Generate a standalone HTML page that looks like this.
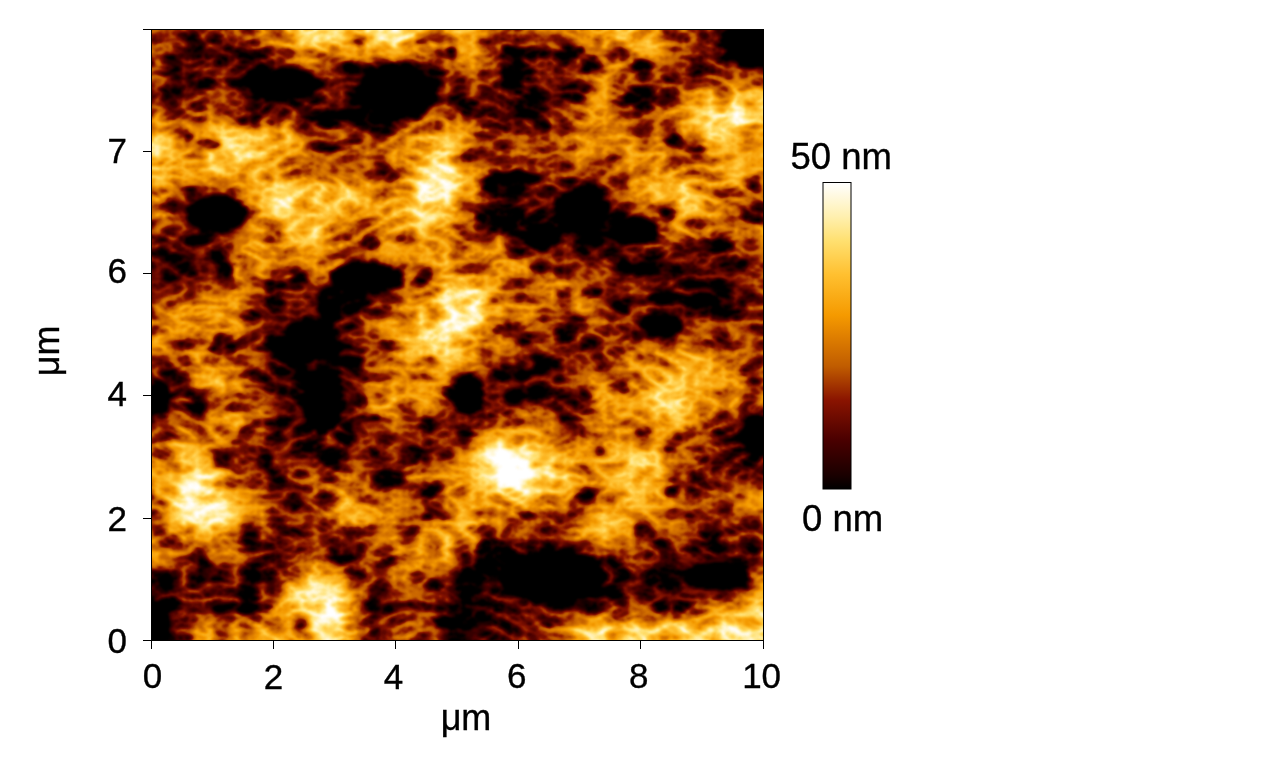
<!DOCTYPE html>
<html lang="en">
<head>
<meta charset="utf-8">
<title>AFM height image</title>
<style>
html,body{margin:0;padding:0;background:#fff;}
body{width:1280px;height:762px;position:relative;overflow:hidden;}
svg{position:absolute;left:0;top:0;display:block;}
</style>
</head>
<body>
<svg width="1280" height="762" viewBox="0 0 1280 762">
<defs>
<linearGradient id="cb" x1="0" y1="1" x2="0" y2="0">
<stop offset="0.000" stop-color="#000000"/>
<stop offset="0.045" stop-color="#1a0000"/>
<stop offset="0.160" stop-color="#4a0000"/>
<stop offset="0.290" stop-color="#8a1400"/>
<stop offset="0.400" stop-color="#c05c00"/>
<stop offset="0.500" stop-color="#e08000"/>
<stop offset="0.567" stop-color="#f59a00"/>
<stop offset="0.700" stop-color="#ffc030"/>
<stop offset="0.810" stop-color="#ffe070"/>
<stop offset="0.890" stop-color="#fff0b0"/>
<stop offset="1.000" stop-color="#ffffff"/>
</linearGradient>
<clipPath id="hc"><rect x="151" y="29" width="612" height="612"/></clipPath>
<filter id="hm" filterUnits="userSpaceOnUse" x="131" y="9" width="652" height="652" color-interpolation-filters="sRGB">
<feTurbulence type="turbulence" baseFrequency="0.038 0.065" numOctaves="4" seed="7" result="T"/>
<feColorMatrix in="T" type="matrix" values="-1 0 0 0 1  -1 0 0 0 1  -1 0 0 0 1  0 0 0 0 1" result="Tg"/>
<feComposite in="SourceGraphic" in2="Tg" operator="arithmetic" k1="0.0000" k2="1.6667" k3="0.7200" k4="-0.8301" result="V"/>
<feGaussianBlur in="V" stdDeviation="0.8" result="V2"/>
<feComponentTransfer in="V2">
<feFuncR type="table" tableValues="0.000 0.071 0.131 0.182 0.233 0.284 0.343 0.404 0.464 0.524 0.584 0.645 0.705 0.761 0.800 0.839 0.878 0.917 0.955 0.969 0.978 0.987 0.996 1.000 1.000 1.000 1.000 1.000 1.000 1.000 1.000 1.000 1.000"/>
<feFuncG type="table" tableValues="0.000 0.000 0.000 0.000 0.000 0.000 0.017 0.035 0.054 0.073 0.136 0.216 0.297 0.370 0.414 0.458 0.502 0.550 0.597 0.634 0.669 0.704 0.739 0.774 0.810 0.846 0.880 0.905 0.929 0.950 0.967 0.983 1.000"/>
<feFuncB type="table" tableValues="0.000 0.000 0.000 0.000 0.000 0.000 0.000 0.000 0.000 0.000 0.000 0.000 0.000 0.000 0.000 0.000 0.000 0.000 0.000 0.038 0.082 0.126 0.171 0.231 0.302 0.374 0.447 0.545 0.643 0.736 0.824 0.912 1.000"/>
</feComponentTransfer>
</filter>
<filter id="b1" filterUnits="userSpaceOnUse" x="131" y="9" width="652" height="652" color-interpolation-filters="sRGB"><feGaussianBlur stdDeviation="6.5"/></filter>
<filter id="b3" filterUnits="userSpaceOnUse" x="131" y="9" width="652" height="652" color-interpolation-filters="sRGB"><feGaussianBlur stdDeviation="6"/></filter>
<filter id="b2" filterUnits="userSpaceOnUse" x="131" y="9" width="652" height="652" color-interpolation-filters="sRGB"><feGaussianBlur stdDeviation="2.5"/></filter>
</defs>
<g clip-path="url(#hc)">
<g filter="url(#hm)">
<rect x="131" y="9" width="652" height="652" fill="#707070"/>
<g filter="url(#b1)">
<rect x="131.88" y="9.88" width="38.75" height="19.62" fill="#626262"/>
<rect x="170.12" y="9.88" width="19.62" height="19.62" fill="#585858"/>
<rect x="189.25" y="9.88" width="19.62" height="19.62" fill="#5a5a5a"/>
<rect x="208.38" y="9.88" width="19.62" height="19.62" fill="#535353"/>
<rect x="227.50" y="9.88" width="19.62" height="19.62" fill="#646464"/>
<rect x="246.62" y="9.88" width="19.62" height="19.62" fill="#727272"/>
<rect x="265.75" y="9.88" width="19.62" height="19.62" fill="#838383"/>
<rect x="284.88" y="9.88" width="19.62" height="19.62" fill="#969696"/>
<rect x="304.00" y="9.88" width="38.75" height="19.62" fill="#aaaaaa"/>
<rect x="342.25" y="9.88" width="19.62" height="19.62" fill="#878787"/>
<rect x="361.38" y="9.88" width="19.62" height="19.62" fill="#a9a9a9"/>
<rect x="380.50" y="9.88" width="19.62" height="19.62" fill="#b9b9b9"/>
<rect x="399.62" y="9.88" width="19.62" height="19.62" fill="#a5a5a5"/>
<rect x="418.75" y="9.88" width="19.62" height="19.62" fill="#8b8b8b"/>
<rect x="437.88" y="9.88" width="19.62" height="19.62" fill="#808080"/>
<rect x="457.00" y="9.88" width="19.62" height="19.62" fill="#8c8c8c"/>
<rect x="476.12" y="9.88" width="19.62" height="19.62" fill="#727272"/>
<rect x="495.25" y="9.88" width="19.62" height="19.62" fill="#646464"/>
<rect x="514.38" y="9.88" width="19.62" height="19.62" fill="#636363"/>
<rect x="533.50" y="9.88" width="19.62" height="19.62" fill="#727272"/>
<rect x="552.62" y="9.88" width="38.75" height="19.62" fill="#737373"/>
<rect x="590.88" y="9.88" width="19.62" height="19.62" fill="#838383"/>
<rect x="610.00" y="9.88" width="19.62" height="19.62" fill="#969696"/>
<rect x="629.12" y="9.88" width="19.62" height="19.62" fill="#949494"/>
<rect x="648.25" y="9.88" width="19.62" height="19.62" fill="#7c7c7c"/>
<rect x="667.38" y="9.88" width="19.62" height="19.62" fill="#727272"/>
<rect x="686.50" y="9.88" width="19.62" height="19.62" fill="#626262"/>
<rect x="705.62" y="9.88" width="19.62" height="19.62" fill="#535353"/>
<rect x="724.75" y="9.88" width="57.88" height="19.62" fill="#242424"/>
<rect x="131.88" y="29.00" width="38.75" height="19.62" fill="#626262"/>
<rect x="170.12" y="29.00" width="19.62" height="19.62" fill="#585858"/>
<rect x="189.25" y="29.00" width="19.62" height="19.62" fill="#5a5a5a"/>
<rect x="208.38" y="29.00" width="19.62" height="19.62" fill="#535353"/>
<rect x="227.50" y="29.00" width="19.62" height="19.62" fill="#646464"/>
<rect x="246.62" y="29.00" width="19.62" height="19.62" fill="#727272"/>
<rect x="265.75" y="29.00" width="19.62" height="19.62" fill="#838383"/>
<rect x="284.88" y="29.00" width="19.62" height="19.62" fill="#969696"/>
<rect x="304.00" y="29.00" width="38.75" height="19.62" fill="#aaaaaa"/>
<rect x="342.25" y="29.00" width="19.62" height="19.62" fill="#878787"/>
<rect x="361.38" y="29.00" width="19.62" height="19.62" fill="#a9a9a9"/>
<rect x="380.50" y="29.00" width="19.62" height="19.62" fill="#b9b9b9"/>
<rect x="399.62" y="29.00" width="19.62" height="19.62" fill="#a5a5a5"/>
<rect x="418.75" y="29.00" width="19.62" height="19.62" fill="#8b8b8b"/>
<rect x="437.88" y="29.00" width="19.62" height="19.62" fill="#808080"/>
<rect x="457.00" y="29.00" width="19.62" height="19.62" fill="#8c8c8c"/>
<rect x="476.12" y="29.00" width="19.62" height="19.62" fill="#727272"/>
<rect x="495.25" y="29.00" width="19.62" height="19.62" fill="#646464"/>
<rect x="514.38" y="29.00" width="19.62" height="19.62" fill="#636363"/>
<rect x="533.50" y="29.00" width="19.62" height="19.62" fill="#727272"/>
<rect x="552.62" y="29.00" width="38.75" height="19.62" fill="#737373"/>
<rect x="590.88" y="29.00" width="19.62" height="19.62" fill="#838383"/>
<rect x="610.00" y="29.00" width="19.62" height="19.62" fill="#969696"/>
<rect x="629.12" y="29.00" width="19.62" height="19.62" fill="#949494"/>
<rect x="648.25" y="29.00" width="19.62" height="19.62" fill="#7c7c7c"/>
<rect x="667.38" y="29.00" width="19.62" height="19.62" fill="#727272"/>
<rect x="686.50" y="29.00" width="19.62" height="19.62" fill="#626262"/>
<rect x="705.62" y="29.00" width="19.62" height="19.62" fill="#535353"/>
<rect x="724.75" y="29.00" width="57.88" height="19.62" fill="#242424"/>
<rect x="131.88" y="48.12" width="38.75" height="19.62" fill="#656565"/>
<rect x="170.12" y="48.12" width="19.62" height="19.62" fill="#494949"/>
<rect x="189.25" y="48.12" width="19.62" height="19.62" fill="#5c5c5c"/>
<rect x="208.38" y="48.12" width="19.62" height="19.62" fill="#535353"/>
<rect x="227.50" y="48.12" width="19.62" height="19.62" fill="#4c4c4c"/>
<rect x="246.62" y="48.12" width="19.62" height="19.62" fill="#444444"/>
<rect x="265.75" y="48.12" width="19.62" height="19.62" fill="#666666"/>
<rect x="284.88" y="48.12" width="19.62" height="19.62" fill="#8f8f8f"/>
<rect x="304.00" y="48.12" width="19.62" height="19.62" fill="#838383"/>
<rect x="323.12" y="48.12" width="19.62" height="19.62" fill="#646464"/>
<rect x="342.25" y="48.12" width="19.62" height="19.62" fill="#7e7e7e"/>
<rect x="361.38" y="48.12" width="19.62" height="19.62" fill="#727272"/>
<rect x="380.50" y="48.12" width="19.62" height="19.62" fill="#7e7e7e"/>
<rect x="399.62" y="48.12" width="19.62" height="19.62" fill="#6c6c6c"/>
<rect x="418.75" y="48.12" width="19.62" height="19.62" fill="#626262"/>
<rect x="437.88" y="48.12" width="19.62" height="19.62" fill="#6f6f6f"/>
<rect x="457.00" y="48.12" width="19.62" height="19.62" fill="#838383"/>
<rect x="476.12" y="48.12" width="19.62" height="19.62" fill="#727272"/>
<rect x="495.25" y="48.12" width="38.75" height="19.62" fill="#505050"/>
<rect x="533.50" y="48.12" width="19.62" height="19.62" fill="#535353"/>
<rect x="552.62" y="48.12" width="19.62" height="19.62" fill="#4d4d4d"/>
<rect x="571.75" y="48.12" width="19.62" height="19.62" fill="#5f5f5f"/>
<rect x="590.88" y="48.12" width="19.62" height="19.62" fill="#686868"/>
<rect x="610.00" y="48.12" width="19.62" height="19.62" fill="#838383"/>
<rect x="629.12" y="48.12" width="19.62" height="19.62" fill="#636363"/>
<rect x="648.25" y="48.12" width="19.62" height="19.62" fill="#686868"/>
<rect x="667.38" y="48.12" width="19.62" height="19.62" fill="#626262"/>
<rect x="686.50" y="48.12" width="38.75" height="19.62" fill="#535353"/>
<rect x="724.75" y="48.12" width="19.62" height="19.62" fill="#505050"/>
<rect x="743.88" y="48.12" width="38.75" height="19.62" fill="#242424"/>
<rect x="131.88" y="67.25" width="38.75" height="19.62" fill="#626262"/>
<rect x="170.12" y="67.25" width="19.62" height="19.62" fill="#4c4c4c"/>
<rect x="189.25" y="67.25" width="19.62" height="19.62" fill="#505050"/>
<rect x="208.38" y="67.25" width="19.62" height="19.62" fill="#585858"/>
<rect x="227.50" y="67.25" width="19.62" height="19.62" fill="#494949"/>
<rect x="246.62" y="67.25" width="57.88" height="19.62" fill="#303030"/>
<rect x="304.00" y="67.25" width="19.62" height="19.62" fill="#505050"/>
<rect x="323.12" y="67.25" width="19.62" height="19.62" fill="#565656"/>
<rect x="342.25" y="67.25" width="19.62" height="19.62" fill="#505050"/>
<rect x="361.38" y="67.25" width="19.62" height="19.62" fill="#303030"/>
<rect x="380.50" y="67.25" width="57.88" height="19.62" fill="#242424"/>
<rect x="437.88" y="67.25" width="19.62" height="19.62" fill="#595959"/>
<rect x="457.00" y="67.25" width="19.62" height="19.62" fill="#727272"/>
<rect x="476.12" y="67.25" width="19.62" height="19.62" fill="#626262"/>
<rect x="495.25" y="67.25" width="38.75" height="19.62" fill="#505050"/>
<rect x="533.50" y="67.25" width="38.75" height="19.62" fill="#535353"/>
<rect x="571.75" y="67.25" width="19.62" height="19.62" fill="#696969"/>
<rect x="590.88" y="67.25" width="19.62" height="19.62" fill="#7e7e7e"/>
<rect x="610.00" y="67.25" width="19.62" height="19.62" fill="#838383"/>
<rect x="629.12" y="67.25" width="19.62" height="19.62" fill="#5f5f5f"/>
<rect x="648.25" y="67.25" width="19.62" height="19.62" fill="#666666"/>
<rect x="667.38" y="67.25" width="19.62" height="19.62" fill="#535353"/>
<rect x="686.50" y="67.25" width="19.62" height="19.62" fill="#5f5f5f"/>
<rect x="705.62" y="67.25" width="77.00" height="19.62" fill="#626262"/>
<rect x="131.88" y="86.38" width="38.75" height="19.62" fill="#4d4d4d"/>
<rect x="170.12" y="86.38" width="19.62" height="19.62" fill="#505050"/>
<rect x="189.25" y="86.38" width="19.62" height="19.62" fill="#656565"/>
<rect x="208.38" y="86.38" width="19.62" height="19.62" fill="#626262"/>
<rect x="227.50" y="86.38" width="19.62" height="19.62" fill="#545454"/>
<rect x="246.62" y="86.38" width="19.62" height="19.62" fill="#303030"/>
<rect x="265.75" y="86.38" width="19.62" height="19.62" fill="#242424"/>
<rect x="284.88" y="86.38" width="19.62" height="19.62" fill="#303030"/>
<rect x="304.00" y="86.38" width="19.62" height="19.62" fill="#505050"/>
<rect x="323.12" y="86.38" width="19.62" height="19.62" fill="#535353"/>
<rect x="342.25" y="86.38" width="19.62" height="19.62" fill="#4a4a4a"/>
<rect x="361.38" y="86.38" width="57.88" height="19.62" fill="#242424"/>
<rect x="418.75" y="86.38" width="19.62" height="19.62" fill="#444444"/>
<rect x="437.88" y="86.38" width="19.62" height="19.62" fill="#626262"/>
<rect x="457.00" y="86.38" width="19.62" height="19.62" fill="#5f5f5f"/>
<rect x="476.12" y="86.38" width="19.62" height="19.62" fill="#545454"/>
<rect x="495.25" y="86.38" width="19.62" height="19.62" fill="#535353"/>
<rect x="514.38" y="86.38" width="19.62" height="19.62" fill="#505050"/>
<rect x="533.50" y="86.38" width="19.62" height="19.62" fill="#4e4e4e"/>
<rect x="552.62" y="86.38" width="19.62" height="19.62" fill="#505050"/>
<rect x="571.75" y="86.38" width="19.62" height="19.62" fill="#6f6f6f"/>
<rect x="590.88" y="86.38" width="19.62" height="19.62" fill="#838383"/>
<rect x="610.00" y="86.38" width="19.62" height="19.62" fill="#696969"/>
<rect x="629.12" y="86.38" width="19.62" height="19.62" fill="#505050"/>
<rect x="648.25" y="86.38" width="19.62" height="19.62" fill="#5f5f5f"/>
<rect x="667.38" y="86.38" width="19.62" height="19.62" fill="#727272"/>
<rect x="686.50" y="86.38" width="19.62" height="19.62" fill="#838383"/>
<rect x="705.62" y="86.38" width="77.00" height="19.62" fill="#969696"/>
<rect x="131.88" y="105.50" width="38.75" height="19.62" fill="#727272"/>
<rect x="170.12" y="105.50" width="19.62" height="19.62" fill="#626262"/>
<rect x="189.25" y="105.50" width="19.62" height="19.62" fill="#727272"/>
<rect x="208.38" y="105.50" width="19.62" height="19.62" fill="#626262"/>
<rect x="227.50" y="105.50" width="19.62" height="19.62" fill="#585858"/>
<rect x="246.62" y="105.50" width="19.62" height="19.62" fill="#474747"/>
<rect x="265.75" y="105.50" width="19.62" height="19.62" fill="#5c5c5c"/>
<rect x="284.88" y="105.50" width="19.62" height="19.62" fill="#626262"/>
<rect x="304.00" y="105.50" width="19.62" height="19.62" fill="#4d4d4d"/>
<rect x="323.12" y="105.50" width="19.62" height="19.62" fill="#505050"/>
<rect x="342.25" y="105.50" width="57.88" height="19.62" fill="#242424"/>
<rect x="399.62" y="105.50" width="19.62" height="19.62" fill="#505050"/>
<rect x="418.75" y="105.50" width="19.62" height="19.62" fill="#6f6f6f"/>
<rect x="437.88" y="105.50" width="19.62" height="19.62" fill="#636363"/>
<rect x="457.00" y="105.50" width="19.62" height="19.62" fill="#5f5f5f"/>
<rect x="476.12" y="105.50" width="19.62" height="19.62" fill="#545454"/>
<rect x="495.25" y="105.50" width="19.62" height="19.62" fill="#484848"/>
<rect x="514.38" y="105.50" width="19.62" height="19.62" fill="#505050"/>
<rect x="533.50" y="105.50" width="19.62" height="19.62" fill="#5f5f5f"/>
<rect x="552.62" y="105.50" width="19.62" height="19.62" fill="#656565"/>
<rect x="571.75" y="105.50" width="19.62" height="19.62" fill="#727272"/>
<rect x="590.88" y="105.50" width="19.62" height="19.62" fill="#838383"/>
<rect x="610.00" y="105.50" width="19.62" height="19.62" fill="#626262"/>
<rect x="629.12" y="105.50" width="19.62" height="19.62" fill="#676767"/>
<rect x="648.25" y="105.50" width="19.62" height="19.62" fill="#626262"/>
<rect x="667.38" y="105.50" width="19.62" height="19.62" fill="#838383"/>
<rect x="686.50" y="105.50" width="19.62" height="19.62" fill="#969696"/>
<rect x="705.62" y="105.50" width="19.62" height="19.62" fill="#aaaaaa"/>
<rect x="724.75" y="105.50" width="19.62" height="19.62" fill="#b7b7b7"/>
<rect x="743.88" y="105.50" width="38.75" height="19.62" fill="#a3a3a3"/>
<rect x="131.88" y="124.62" width="38.75" height="19.62" fill="#969696"/>
<rect x="170.12" y="124.62" width="38.75" height="19.62" fill="#7e7e7e"/>
<rect x="208.38" y="124.62" width="19.62" height="19.62" fill="#a3a3a3"/>
<rect x="227.50" y="124.62" width="19.62" height="19.62" fill="#a0a0a0"/>
<rect x="246.62" y="124.62" width="57.88" height="19.62" fill="#969696"/>
<rect x="304.00" y="124.62" width="19.62" height="19.62" fill="#676767"/>
<rect x="323.12" y="124.62" width="19.62" height="19.62" fill="#6f6f6f"/>
<rect x="342.25" y="124.62" width="19.62" height="19.62" fill="#646464"/>
<rect x="361.38" y="124.62" width="19.62" height="19.62" fill="#5f5f5f"/>
<rect x="380.50" y="124.62" width="19.62" height="19.62" fill="#6d6d6d"/>
<rect x="399.62" y="124.62" width="19.62" height="19.62" fill="#838383"/>
<rect x="418.75" y="124.62" width="38.75" height="19.62" fill="#969696"/>
<rect x="457.00" y="124.62" width="19.62" height="19.62" fill="#858585"/>
<rect x="476.12" y="124.62" width="19.62" height="19.62" fill="#6b6b6b"/>
<rect x="495.25" y="124.62" width="19.62" height="19.62" fill="#5e5e5e"/>
<rect x="514.38" y="124.62" width="19.62" height="19.62" fill="#626262"/>
<rect x="533.50" y="124.62" width="19.62" height="19.62" fill="#5f5f5f"/>
<rect x="552.62" y="124.62" width="19.62" height="19.62" fill="#737373"/>
<rect x="571.75" y="124.62" width="19.62" height="19.62" fill="#838383"/>
<rect x="590.88" y="124.62" width="19.62" height="19.62" fill="#727272"/>
<rect x="610.00" y="124.62" width="19.62" height="19.62" fill="#838383"/>
<rect x="629.12" y="124.62" width="38.75" height="19.62" fill="#727272"/>
<rect x="667.38" y="124.62" width="19.62" height="19.62" fill="#6f6f6f"/>
<rect x="686.50" y="124.62" width="19.62" height="19.62" fill="#989898"/>
<rect x="705.62" y="124.62" width="19.62" height="19.62" fill="#aaaaaa"/>
<rect x="724.75" y="124.62" width="19.62" height="19.62" fill="#8b8b8b"/>
<rect x="743.88" y="124.62" width="38.75" height="19.62" fill="#7c7c7c"/>
<rect x="131.88" y="143.75" width="38.75" height="19.62" fill="#aaaaaa"/>
<rect x="170.12" y="143.75" width="19.62" height="19.62" fill="#838383"/>
<rect x="189.25" y="143.75" width="19.62" height="19.62" fill="#7d7d7d"/>
<rect x="208.38" y="143.75" width="19.62" height="19.62" fill="#b7b7b7"/>
<rect x="227.50" y="143.75" width="19.62" height="19.62" fill="#adadad"/>
<rect x="246.62" y="143.75" width="19.62" height="19.62" fill="#ababab"/>
<rect x="265.75" y="143.75" width="19.62" height="19.62" fill="#969696"/>
<rect x="284.88" y="143.75" width="19.62" height="19.62" fill="#838383"/>
<rect x="304.00" y="143.75" width="19.62" height="19.62" fill="#646464"/>
<rect x="323.12" y="143.75" width="19.62" height="19.62" fill="#6a6a6a"/>
<rect x="342.25" y="143.75" width="19.62" height="19.62" fill="#797979"/>
<rect x="361.38" y="143.75" width="19.62" height="19.62" fill="#727272"/>
<rect x="380.50" y="143.75" width="19.62" height="19.62" fill="#838383"/>
<rect x="399.62" y="143.75" width="19.62" height="19.62" fill="#727272"/>
<rect x="418.75" y="143.75" width="19.62" height="19.62" fill="#969696"/>
<rect x="437.88" y="143.75" width="19.62" height="19.62" fill="#a9a9a9"/>
<rect x="457.00" y="143.75" width="19.62" height="19.62" fill="#7e7e7e"/>
<rect x="476.12" y="143.75" width="19.62" height="19.62" fill="#5f5f5f"/>
<rect x="495.25" y="143.75" width="19.62" height="19.62" fill="#626262"/>
<rect x="514.38" y="143.75" width="19.62" height="19.62" fill="#727272"/>
<rect x="533.50" y="143.75" width="19.62" height="19.62" fill="#656565"/>
<rect x="552.62" y="143.75" width="19.62" height="19.62" fill="#797979"/>
<rect x="571.75" y="143.75" width="19.62" height="19.62" fill="#838383"/>
<rect x="590.88" y="143.75" width="19.62" height="19.62" fill="#727272"/>
<rect x="610.00" y="143.75" width="57.88" height="19.62" fill="#838383"/>
<rect x="667.38" y="143.75" width="38.75" height="19.62" fill="#6f6f6f"/>
<rect x="705.62" y="143.75" width="77.00" height="19.62" fill="#838383"/>
<rect x="131.88" y="162.88" width="38.75" height="19.62" fill="#969696"/>
<rect x="170.12" y="162.88" width="38.75" height="19.62" fill="#838383"/>
<rect x="208.38" y="162.88" width="19.62" height="19.62" fill="#aaaaaa"/>
<rect x="227.50" y="162.88" width="19.62" height="19.62" fill="#828282"/>
<rect x="246.62" y="162.88" width="19.62" height="19.62" fill="#969696"/>
<rect x="265.75" y="162.88" width="19.62" height="19.62" fill="#838383"/>
<rect x="284.88" y="162.88" width="19.62" height="19.62" fill="#727272"/>
<rect x="304.00" y="162.88" width="19.62" height="19.62" fill="#626262"/>
<rect x="323.12" y="162.88" width="19.62" height="19.62" fill="#636363"/>
<rect x="342.25" y="162.88" width="19.62" height="19.62" fill="#646464"/>
<rect x="361.38" y="162.88" width="19.62" height="19.62" fill="#626262"/>
<rect x="380.50" y="162.88" width="19.62" height="19.62" fill="#5f5f5f"/>
<rect x="399.62" y="162.88" width="19.62" height="19.62" fill="#969696"/>
<rect x="418.75" y="162.88" width="19.62" height="19.62" fill="#bdbdbd"/>
<rect x="437.88" y="162.88" width="19.62" height="19.62" fill="#aeaeae"/>
<rect x="457.00" y="162.88" width="19.62" height="19.62" fill="#7e7e7e"/>
<rect x="476.12" y="162.88" width="19.62" height="19.62" fill="#6e6e6e"/>
<rect x="495.25" y="162.88" width="57.88" height="19.62" fill="#5f5f5f"/>
<rect x="552.62" y="162.88" width="19.62" height="19.62" fill="#676767"/>
<rect x="571.75" y="162.88" width="19.62" height="19.62" fill="#656565"/>
<rect x="590.88" y="162.88" width="19.62" height="19.62" fill="#6d6d6d"/>
<rect x="610.00" y="162.88" width="19.62" height="19.62" fill="#727272"/>
<rect x="629.12" y="162.88" width="96.12" height="19.62" fill="#838383"/>
<rect x="724.75" y="162.88" width="19.62" height="19.62" fill="#969696"/>
<rect x="743.88" y="162.88" width="38.75" height="19.62" fill="#838383"/>
<rect x="131.88" y="182.00" width="38.75" height="19.62" fill="#838383"/>
<rect x="170.12" y="182.00" width="19.62" height="19.62" fill="#646464"/>
<rect x="189.25" y="182.00" width="38.75" height="19.62" fill="#5f5f5f"/>
<rect x="227.50" y="182.00" width="19.62" height="19.62" fill="#797979"/>
<rect x="246.62" y="182.00" width="19.62" height="19.62" fill="#838383"/>
<rect x="265.75" y="182.00" width="19.62" height="19.62" fill="#a7a7a7"/>
<rect x="284.88" y="182.00" width="19.62" height="19.62" fill="#9c9c9c"/>
<rect x="304.00" y="182.00" width="57.88" height="19.62" fill="#aaaaaa"/>
<rect x="361.38" y="182.00" width="19.62" height="19.62" fill="#969696"/>
<rect x="380.50" y="182.00" width="19.62" height="19.62" fill="#727272"/>
<rect x="399.62" y="182.00" width="19.62" height="19.62" fill="#959595"/>
<rect x="418.75" y="182.00" width="19.62" height="19.62" fill="#c2c2c2"/>
<rect x="437.88" y="182.00" width="19.62" height="19.62" fill="#bbbbbb"/>
<rect x="457.00" y="182.00" width="19.62" height="19.62" fill="#969696"/>
<rect x="476.12" y="182.00" width="19.62" height="19.62" fill="#5f5f5f"/>
<rect x="495.25" y="182.00" width="38.75" height="19.62" fill="#505050"/>
<rect x="533.50" y="182.00" width="19.62" height="19.62" fill="#555555"/>
<rect x="552.62" y="182.00" width="19.62" height="19.62" fill="#505050"/>
<rect x="571.75" y="182.00" width="19.62" height="19.62" fill="#303030"/>
<rect x="590.88" y="182.00" width="19.62" height="19.62" fill="#505050"/>
<rect x="610.00" y="182.00" width="19.62" height="19.62" fill="#626262"/>
<rect x="629.12" y="182.00" width="19.62" height="19.62" fill="#838383"/>
<rect x="648.25" y="182.00" width="19.62" height="19.62" fill="#949494"/>
<rect x="667.38" y="182.00" width="19.62" height="19.62" fill="#adadad"/>
<rect x="686.50" y="182.00" width="19.62" height="19.62" fill="#969696"/>
<rect x="705.62" y="182.00" width="38.75" height="19.62" fill="#838383"/>
<rect x="743.88" y="182.00" width="38.75" height="19.62" fill="#6e6e6e"/>
<rect x="131.88" y="201.12" width="38.75" height="19.62" fill="#838383"/>
<rect x="170.12" y="201.12" width="19.62" height="19.62" fill="#535353"/>
<rect x="189.25" y="201.12" width="38.75" height="19.62" fill="#242424"/>
<rect x="227.50" y="201.12" width="19.62" height="19.62" fill="#444444"/>
<rect x="246.62" y="201.12" width="19.62" height="19.62" fill="#838383"/>
<rect x="265.75" y="201.12" width="19.62" height="19.62" fill="#a7a7a7"/>
<rect x="284.88" y="201.12" width="19.62" height="19.62" fill="#7b7b7b"/>
<rect x="304.00" y="201.12" width="38.75" height="19.62" fill="#969696"/>
<rect x="342.25" y="201.12" width="38.75" height="19.62" fill="#838383"/>
<rect x="380.50" y="201.12" width="19.62" height="19.62" fill="#969696"/>
<rect x="399.62" y="201.12" width="19.62" height="19.62" fill="#adadad"/>
<rect x="418.75" y="201.12" width="19.62" height="19.62" fill="#cacaca"/>
<rect x="437.88" y="201.12" width="19.62" height="19.62" fill="#919191"/>
<rect x="457.00" y="201.12" width="19.62" height="19.62" fill="#727272"/>
<rect x="476.12" y="201.12" width="19.62" height="19.62" fill="#505050"/>
<rect x="495.25" y="201.12" width="19.62" height="19.62" fill="#242424"/>
<rect x="514.38" y="201.12" width="19.62" height="19.62" fill="#505050"/>
<rect x="533.50" y="201.12" width="19.62" height="19.62" fill="#444444"/>
<rect x="552.62" y="201.12" width="19.62" height="19.62" fill="#303030"/>
<rect x="571.75" y="201.12" width="38.75" height="19.62" fill="#242424"/>
<rect x="610.00" y="201.12" width="19.62" height="19.62" fill="#565656"/>
<rect x="629.12" y="201.12" width="19.62" height="19.62" fill="#6c6c6c"/>
<rect x="648.25" y="201.12" width="19.62" height="19.62" fill="#696969"/>
<rect x="667.38" y="201.12" width="19.62" height="19.62" fill="#8f8f8f"/>
<rect x="686.50" y="201.12" width="19.62" height="19.62" fill="#909090"/>
<rect x="705.62" y="201.12" width="19.62" height="19.62" fill="#777777"/>
<rect x="724.75" y="201.12" width="19.62" height="19.62" fill="#646464"/>
<rect x="743.88" y="201.12" width="38.75" height="19.62" fill="#5f5f5f"/>
<rect x="131.88" y="220.25" width="38.75" height="19.62" fill="#686868"/>
<rect x="170.12" y="220.25" width="19.62" height="19.62" fill="#595959"/>
<rect x="189.25" y="220.25" width="38.75" height="19.62" fill="#505050"/>
<rect x="227.50" y="220.25" width="19.62" height="19.62" fill="#5f5f5f"/>
<rect x="246.62" y="220.25" width="19.62" height="19.62" fill="#838383"/>
<rect x="265.75" y="220.25" width="19.62" height="19.62" fill="#7a7a7a"/>
<rect x="284.88" y="220.25" width="19.62" height="19.62" fill="#ababab"/>
<rect x="304.00" y="220.25" width="19.62" height="19.62" fill="#b0b0b0"/>
<rect x="323.12" y="220.25" width="38.75" height="19.62" fill="#727272"/>
<rect x="361.38" y="220.25" width="19.62" height="19.62" fill="#777777"/>
<rect x="380.50" y="220.25" width="19.62" height="19.62" fill="#838383"/>
<rect x="399.62" y="220.25" width="38.75" height="19.62" fill="#969696"/>
<rect x="437.88" y="220.25" width="19.62" height="19.62" fill="#838383"/>
<rect x="457.00" y="220.25" width="19.62" height="19.62" fill="#626262"/>
<rect x="476.12" y="220.25" width="19.62" height="19.62" fill="#505050"/>
<rect x="495.25" y="220.25" width="19.62" height="19.62" fill="#6f6f6f"/>
<rect x="514.38" y="220.25" width="19.62" height="19.62" fill="#505050"/>
<rect x="533.50" y="220.25" width="96.12" height="19.62" fill="#303030"/>
<rect x="629.12" y="220.25" width="19.62" height="19.62" fill="#242424"/>
<rect x="648.25" y="220.25" width="19.62" height="19.62" fill="#5f5f5f"/>
<rect x="667.38" y="220.25" width="19.62" height="19.62" fill="#878787"/>
<rect x="686.50" y="220.25" width="19.62" height="19.62" fill="#838383"/>
<rect x="705.62" y="220.25" width="38.75" height="19.62" fill="#727272"/>
<rect x="743.88" y="220.25" width="38.75" height="19.62" fill="#7e7e7e"/>
<rect x="131.88" y="239.38" width="38.75" height="19.62" fill="#585858"/>
<rect x="170.12" y="239.38" width="38.75" height="19.62" fill="#505050"/>
<rect x="208.38" y="239.38" width="19.62" height="19.62" fill="#5d5d5d"/>
<rect x="227.50" y="239.38" width="19.62" height="19.62" fill="#626262"/>
<rect x="246.62" y="239.38" width="19.62" height="19.62" fill="#969696"/>
<rect x="265.75" y="239.38" width="19.62" height="19.62" fill="#757575"/>
<rect x="284.88" y="239.38" width="19.62" height="19.62" fill="#828282"/>
<rect x="304.00" y="239.38" width="19.62" height="19.62" fill="#818181"/>
<rect x="323.12" y="239.38" width="19.62" height="19.62" fill="#838383"/>
<rect x="342.25" y="239.38" width="19.62" height="19.62" fill="#797979"/>
<rect x="361.38" y="239.38" width="19.62" height="19.62" fill="#6f6f6f"/>
<rect x="380.50" y="239.38" width="19.62" height="19.62" fill="#848484"/>
<rect x="399.62" y="239.38" width="19.62" height="19.62" fill="#727272"/>
<rect x="418.75" y="239.38" width="38.75" height="19.62" fill="#838383"/>
<rect x="457.00" y="239.38" width="19.62" height="19.62" fill="#727272"/>
<rect x="476.12" y="239.38" width="38.75" height="19.62" fill="#838383"/>
<rect x="514.38" y="239.38" width="38.75" height="19.62" fill="#505050"/>
<rect x="552.62" y="239.38" width="19.62" height="19.62" fill="#5e5e5e"/>
<rect x="571.75" y="239.38" width="38.75" height="19.62" fill="#505050"/>
<rect x="610.00" y="239.38" width="19.62" height="19.62" fill="#494949"/>
<rect x="629.12" y="239.38" width="19.62" height="19.62" fill="#5f5f5f"/>
<rect x="648.25" y="239.38" width="19.62" height="19.62" fill="#636363"/>
<rect x="667.38" y="239.38" width="19.62" height="19.62" fill="#585858"/>
<rect x="686.50" y="239.38" width="38.75" height="19.62" fill="#505050"/>
<rect x="724.75" y="239.38" width="19.62" height="19.62" fill="#5f5f5f"/>
<rect x="743.88" y="239.38" width="38.75" height="19.62" fill="#626262"/>
<rect x="131.88" y="258.50" width="38.75" height="19.62" fill="#464646"/>
<rect x="170.12" y="258.50" width="19.62" height="19.62" fill="#505050"/>
<rect x="189.25" y="258.50" width="19.62" height="19.62" fill="#4d4d4d"/>
<rect x="208.38" y="258.50" width="19.62" height="19.62" fill="#505050"/>
<rect x="227.50" y="258.50" width="19.62" height="19.62" fill="#7e7e7e"/>
<rect x="246.62" y="258.50" width="19.62" height="19.62" fill="#838383"/>
<rect x="265.75" y="258.50" width="19.62" height="19.62" fill="#727272"/>
<rect x="284.88" y="258.50" width="19.62" height="19.62" fill="#6f6f6f"/>
<rect x="304.00" y="258.50" width="19.62" height="19.62" fill="#757575"/>
<rect x="323.12" y="258.50" width="19.62" height="19.62" fill="#7e7e7e"/>
<rect x="342.25" y="258.50" width="19.62" height="19.62" fill="#5f5f5f"/>
<rect x="361.38" y="258.50" width="19.62" height="19.62" fill="#505050"/>
<rect x="380.50" y="258.50" width="19.62" height="19.62" fill="#5f5f5f"/>
<rect x="399.62" y="258.50" width="19.62" height="19.62" fill="#757575"/>
<rect x="418.75" y="258.50" width="19.62" height="19.62" fill="#7e7e7e"/>
<rect x="437.88" y="258.50" width="19.62" height="19.62" fill="#969696"/>
<rect x="457.00" y="258.50" width="19.62" height="19.62" fill="#727272"/>
<rect x="476.12" y="258.50" width="19.62" height="19.62" fill="#626262"/>
<rect x="495.25" y="258.50" width="19.62" height="19.62" fill="#838383"/>
<rect x="514.38" y="258.50" width="19.62" height="19.62" fill="#868686"/>
<rect x="533.50" y="258.50" width="19.62" height="19.62" fill="#5e5e5e"/>
<rect x="552.62" y="258.50" width="19.62" height="19.62" fill="#626262"/>
<rect x="571.75" y="258.50" width="19.62" height="19.62" fill="#535353"/>
<rect x="590.88" y="258.50" width="19.62" height="19.62" fill="#626262"/>
<rect x="610.00" y="258.50" width="19.62" height="19.62" fill="#505050"/>
<rect x="629.12" y="258.50" width="19.62" height="19.62" fill="#252525"/>
<rect x="648.25" y="258.50" width="19.62" height="19.62" fill="#272727"/>
<rect x="667.38" y="258.50" width="38.75" height="19.62" fill="#505050"/>
<rect x="705.62" y="258.50" width="19.62" height="19.62" fill="#535353"/>
<rect x="724.75" y="258.50" width="19.62" height="19.62" fill="#505050"/>
<rect x="743.88" y="258.50" width="38.75" height="19.62" fill="#565656"/>
<rect x="131.88" y="277.62" width="38.75" height="19.62" fill="#444444"/>
<rect x="170.12" y="277.62" width="19.62" height="19.62" fill="#555555"/>
<rect x="189.25" y="277.62" width="19.62" height="19.62" fill="#545454"/>
<rect x="208.38" y="277.62" width="19.62" height="19.62" fill="#626262"/>
<rect x="227.50" y="277.62" width="38.75" height="19.62" fill="#727272"/>
<rect x="265.75" y="277.62" width="19.62" height="19.62" fill="#5f5f5f"/>
<rect x="284.88" y="277.62" width="19.62" height="19.62" fill="#595959"/>
<rect x="304.00" y="277.62" width="19.62" height="19.62" fill="#565656"/>
<rect x="323.12" y="277.62" width="19.62" height="19.62" fill="#505050"/>
<rect x="342.25" y="277.62" width="19.62" height="19.62" fill="#242424"/>
<rect x="361.38" y="277.62" width="19.62" height="19.62" fill="#303030"/>
<rect x="380.50" y="277.62" width="19.62" height="19.62" fill="#505050"/>
<rect x="399.62" y="277.62" width="19.62" height="19.62" fill="#686868"/>
<rect x="418.75" y="277.62" width="19.62" height="19.62" fill="#6f6f6f"/>
<rect x="437.88" y="277.62" width="19.62" height="19.62" fill="#8e8e8e"/>
<rect x="457.00" y="277.62" width="19.62" height="19.62" fill="#979797"/>
<rect x="476.12" y="277.62" width="19.62" height="19.62" fill="#a4a4a4"/>
<rect x="495.25" y="277.62" width="19.62" height="19.62" fill="#676767"/>
<rect x="514.38" y="277.62" width="19.62" height="19.62" fill="#5f5f5f"/>
<rect x="533.50" y="277.62" width="19.62" height="19.62" fill="#727272"/>
<rect x="552.62" y="277.62" width="19.62" height="19.62" fill="#868686"/>
<rect x="571.75" y="277.62" width="19.62" height="19.62" fill="#626262"/>
<rect x="590.88" y="277.62" width="19.62" height="19.62" fill="#595959"/>
<rect x="610.00" y="277.62" width="38.75" height="19.62" fill="#626262"/>
<rect x="648.25" y="277.62" width="19.62" height="19.62" fill="#505050"/>
<rect x="667.38" y="277.62" width="19.62" height="19.62" fill="#5a5a5a"/>
<rect x="686.50" y="277.62" width="19.62" height="19.62" fill="#505050"/>
<rect x="705.62" y="277.62" width="19.62" height="19.62" fill="#464646"/>
<rect x="724.75" y="277.62" width="19.62" height="19.62" fill="#484848"/>
<rect x="743.88" y="277.62" width="38.75" height="19.62" fill="#626262"/>
<rect x="131.88" y="296.75" width="38.75" height="19.62" fill="#727272"/>
<rect x="170.12" y="296.75" width="77.00" height="19.62" fill="#838383"/>
<rect x="246.62" y="296.75" width="19.62" height="19.62" fill="#535353"/>
<rect x="265.75" y="296.75" width="19.62" height="19.62" fill="#505050"/>
<rect x="284.88" y="296.75" width="19.62" height="19.62" fill="#545454"/>
<rect x="304.00" y="296.75" width="19.62" height="19.62" fill="#505050"/>
<rect x="323.12" y="296.75" width="19.62" height="19.62" fill="#242424"/>
<rect x="342.25" y="296.75" width="19.62" height="19.62" fill="#444444"/>
<rect x="361.38" y="296.75" width="19.62" height="19.62" fill="#5f5f5f"/>
<rect x="380.50" y="296.75" width="19.62" height="19.62" fill="#626262"/>
<rect x="399.62" y="296.75" width="19.62" height="19.62" fill="#838383"/>
<rect x="418.75" y="296.75" width="19.62" height="19.62" fill="#969696"/>
<rect x="437.88" y="296.75" width="19.62" height="19.62" fill="#8c8c8c"/>
<rect x="457.00" y="296.75" width="19.62" height="19.62" fill="#adadad"/>
<rect x="476.12" y="296.75" width="19.62" height="19.62" fill="#989898"/>
<rect x="495.25" y="296.75" width="38.75" height="19.62" fill="#838383"/>
<rect x="533.50" y="296.75" width="19.62" height="19.62" fill="#777777"/>
<rect x="552.62" y="296.75" width="19.62" height="19.62" fill="#6c6c6c"/>
<rect x="571.75" y="296.75" width="19.62" height="19.62" fill="#838383"/>
<rect x="590.88" y="296.75" width="19.62" height="19.62" fill="#626262"/>
<rect x="610.00" y="296.75" width="19.62" height="19.62" fill="#505050"/>
<rect x="629.12" y="296.75" width="19.62" height="19.62" fill="#666666"/>
<rect x="648.25" y="296.75" width="19.62" height="19.62" fill="#505050"/>
<rect x="667.38" y="296.75" width="19.62" height="19.62" fill="#474747"/>
<rect x="686.50" y="296.75" width="19.62" height="19.62" fill="#252525"/>
<rect x="705.62" y="296.75" width="19.62" height="19.62" fill="#262626"/>
<rect x="724.75" y="296.75" width="19.62" height="19.62" fill="#4a4a4a"/>
<rect x="743.88" y="296.75" width="38.75" height="19.62" fill="#646464"/>
<rect x="131.88" y="315.88" width="38.75" height="19.62" fill="#727272"/>
<rect x="170.12" y="315.88" width="19.62" height="19.62" fill="#838383"/>
<rect x="189.25" y="315.88" width="19.62" height="19.62" fill="#727272"/>
<rect x="208.38" y="315.88" width="38.75" height="19.62" fill="#838383"/>
<rect x="246.62" y="315.88" width="19.62" height="19.62" fill="#626262"/>
<rect x="265.75" y="315.88" width="19.62" height="19.62" fill="#444444"/>
<rect x="284.88" y="315.88" width="19.62" height="19.62" fill="#505050"/>
<rect x="304.00" y="315.88" width="19.62" height="19.62" fill="#303030"/>
<rect x="323.12" y="315.88" width="19.62" height="19.62" fill="#505050"/>
<rect x="342.25" y="315.88" width="19.62" height="19.62" fill="#626262"/>
<rect x="361.38" y="315.88" width="19.62" height="19.62" fill="#727272"/>
<rect x="380.50" y="315.88" width="19.62" height="19.62" fill="#838383"/>
<rect x="399.62" y="315.88" width="19.62" height="19.62" fill="#969696"/>
<rect x="418.75" y="315.88" width="19.62" height="19.62" fill="#aaaaaa"/>
<rect x="437.88" y="315.88" width="19.62" height="19.62" fill="#b4b4b4"/>
<rect x="457.00" y="315.88" width="19.62" height="19.62" fill="#b6b6b6"/>
<rect x="476.12" y="315.88" width="19.62" height="19.62" fill="#707070"/>
<rect x="495.25" y="315.88" width="19.62" height="19.62" fill="#6f6f6f"/>
<rect x="514.38" y="315.88" width="19.62" height="19.62" fill="#6d6d6d"/>
<rect x="533.50" y="315.88" width="19.62" height="19.62" fill="#636363"/>
<rect x="552.62" y="315.88" width="19.62" height="19.62" fill="#565656"/>
<rect x="571.75" y="315.88" width="19.62" height="19.62" fill="#6f6f6f"/>
<rect x="590.88" y="315.88" width="19.62" height="19.62" fill="#727272"/>
<rect x="610.00" y="315.88" width="19.62" height="19.62" fill="#626262"/>
<rect x="629.12" y="315.88" width="19.62" height="19.62" fill="#505050"/>
<rect x="648.25" y="315.88" width="19.62" height="19.62" fill="#242424"/>
<rect x="667.38" y="315.88" width="19.62" height="19.62" fill="#505050"/>
<rect x="686.50" y="315.88" width="19.62" height="19.62" fill="#626262"/>
<rect x="705.62" y="315.88" width="19.62" height="19.62" fill="#727272"/>
<rect x="724.75" y="315.88" width="57.88" height="19.62" fill="#626262"/>
<rect x="131.88" y="335.00" width="38.75" height="19.62" fill="#838383"/>
<rect x="170.12" y="335.00" width="19.62" height="19.62" fill="#696969"/>
<rect x="189.25" y="335.00" width="19.62" height="19.62" fill="#838383"/>
<rect x="208.38" y="335.00" width="38.75" height="19.62" fill="#5f5f5f"/>
<rect x="246.62" y="335.00" width="19.62" height="19.62" fill="#626262"/>
<rect x="265.75" y="335.00" width="19.62" height="19.62" fill="#303030"/>
<rect x="284.88" y="335.00" width="38.75" height="19.62" fill="#242424"/>
<rect x="323.12" y="335.00" width="19.62" height="19.62" fill="#303030"/>
<rect x="342.25" y="335.00" width="19.62" height="19.62" fill="#555555"/>
<rect x="361.38" y="335.00" width="19.62" height="19.62" fill="#535353"/>
<rect x="380.50" y="335.00" width="19.62" height="19.62" fill="#6f6f6f"/>
<rect x="399.62" y="335.00" width="19.62" height="19.62" fill="#969696"/>
<rect x="418.75" y="335.00" width="19.62" height="19.62" fill="#ababab"/>
<rect x="437.88" y="335.00" width="19.62" height="19.62" fill="#b0b0b0"/>
<rect x="457.00" y="335.00" width="19.62" height="19.62" fill="#838383"/>
<rect x="476.12" y="335.00" width="38.75" height="19.62" fill="#727272"/>
<rect x="514.38" y="335.00" width="19.62" height="19.62" fill="#5f5f5f"/>
<rect x="533.50" y="335.00" width="19.62" height="19.62" fill="#626262"/>
<rect x="552.62" y="335.00" width="19.62" height="19.62" fill="#5a5a5a"/>
<rect x="571.75" y="335.00" width="19.62" height="19.62" fill="#545454"/>
<rect x="590.88" y="335.00" width="19.62" height="19.62" fill="#535353"/>
<rect x="610.00" y="335.00" width="19.62" height="19.62" fill="#676767"/>
<rect x="629.12" y="335.00" width="19.62" height="19.62" fill="#6f6f6f"/>
<rect x="648.25" y="335.00" width="19.62" height="19.62" fill="#7e7e7e"/>
<rect x="667.38" y="335.00" width="19.62" height="19.62" fill="#757575"/>
<rect x="686.50" y="335.00" width="19.62" height="19.62" fill="#727272"/>
<rect x="705.62" y="335.00" width="19.62" height="19.62" fill="#5f5f5f"/>
<rect x="724.75" y="335.00" width="19.62" height="19.62" fill="#6b6b6b"/>
<rect x="743.88" y="335.00" width="38.75" height="19.62" fill="#626262"/>
<rect x="131.88" y="354.12" width="38.75" height="19.62" fill="#5f5f5f"/>
<rect x="170.12" y="354.12" width="19.62" height="19.62" fill="#636363"/>
<rect x="189.25" y="354.12" width="19.62" height="19.62" fill="#838383"/>
<rect x="208.38" y="354.12" width="19.62" height="19.62" fill="#757575"/>
<rect x="227.50" y="354.12" width="19.62" height="19.62" fill="#747474"/>
<rect x="246.62" y="354.12" width="19.62" height="19.62" fill="#666666"/>
<rect x="265.75" y="354.12" width="19.62" height="19.62" fill="#494949"/>
<rect x="284.88" y="354.12" width="19.62" height="19.62" fill="#303030"/>
<rect x="304.00" y="354.12" width="19.62" height="19.62" fill="#505050"/>
<rect x="323.12" y="354.12" width="19.62" height="19.62" fill="#2e2e2e"/>
<rect x="342.25" y="354.12" width="19.62" height="19.62" fill="#4f4f4f"/>
<rect x="361.38" y="354.12" width="19.62" height="19.62" fill="#656565"/>
<rect x="380.50" y="354.12" width="19.62" height="19.62" fill="#737373"/>
<rect x="399.62" y="354.12" width="19.62" height="19.62" fill="#838383"/>
<rect x="418.75" y="354.12" width="19.62" height="19.62" fill="#777777"/>
<rect x="437.88" y="354.12" width="19.62" height="19.62" fill="#989898"/>
<rect x="457.00" y="354.12" width="19.62" height="19.62" fill="#838383"/>
<rect x="476.12" y="354.12" width="19.62" height="19.62" fill="#727272"/>
<rect x="495.25" y="354.12" width="19.62" height="19.62" fill="#5f5f5f"/>
<rect x="514.38" y="354.12" width="19.62" height="19.62" fill="#4f4f4f"/>
<rect x="533.50" y="354.12" width="19.62" height="19.62" fill="#505050"/>
<rect x="552.62" y="354.12" width="19.62" height="19.62" fill="#4d4d4d"/>
<rect x="571.75" y="354.12" width="19.62" height="19.62" fill="#535353"/>
<rect x="590.88" y="354.12" width="19.62" height="19.62" fill="#5f5f5f"/>
<rect x="610.00" y="354.12" width="19.62" height="19.62" fill="#787878"/>
<rect x="629.12" y="354.12" width="38.75" height="19.62" fill="#838383"/>
<rect x="667.38" y="354.12" width="19.62" height="19.62" fill="#969696"/>
<rect x="686.50" y="354.12" width="19.62" height="19.62" fill="#ababab"/>
<rect x="705.62" y="354.12" width="19.62" height="19.62" fill="#818181"/>
<rect x="724.75" y="354.12" width="19.62" height="19.62" fill="#757575"/>
<rect x="743.88" y="354.12" width="38.75" height="19.62" fill="#646464"/>
<rect x="131.88" y="373.25" width="38.75" height="19.62" fill="#505050"/>
<rect x="170.12" y="373.25" width="19.62" height="19.62" fill="#5b5b5b"/>
<rect x="189.25" y="373.25" width="19.62" height="19.62" fill="#888888"/>
<rect x="208.38" y="373.25" width="19.62" height="19.62" fill="#969696"/>
<rect x="227.50" y="373.25" width="19.62" height="19.62" fill="#838383"/>
<rect x="246.62" y="373.25" width="19.62" height="19.62" fill="#585858"/>
<rect x="265.75" y="373.25" width="19.62" height="19.62" fill="#4b4b4b"/>
<rect x="284.88" y="373.25" width="19.62" height="19.62" fill="#484848"/>
<rect x="304.00" y="373.25" width="19.62" height="19.62" fill="#303030"/>
<rect x="323.12" y="373.25" width="19.62" height="19.62" fill="#242424"/>
<rect x="342.25" y="373.25" width="19.62" height="19.62" fill="#535353"/>
<rect x="361.38" y="373.25" width="19.62" height="19.62" fill="#727272"/>
<rect x="380.50" y="373.25" width="19.62" height="19.62" fill="#838383"/>
<rect x="399.62" y="373.25" width="19.62" height="19.62" fill="#727272"/>
<rect x="418.75" y="373.25" width="19.62" height="19.62" fill="#838383"/>
<rect x="437.88" y="373.25" width="19.62" height="19.62" fill="#7e7e7e"/>
<rect x="457.00" y="373.25" width="19.62" height="19.62" fill="#505050"/>
<rect x="476.12" y="373.25" width="19.62" height="19.62" fill="#4f4f4f"/>
<rect x="495.25" y="373.25" width="38.75" height="19.62" fill="#505050"/>
<rect x="533.50" y="373.25" width="19.62" height="19.62" fill="#555555"/>
<rect x="552.62" y="373.25" width="19.62" height="19.62" fill="#5a5a5a"/>
<rect x="571.75" y="373.25" width="19.62" height="19.62" fill="#626262"/>
<rect x="590.88" y="373.25" width="19.62" height="19.62" fill="#838383"/>
<rect x="610.00" y="373.25" width="19.62" height="19.62" fill="#6b6b6b"/>
<rect x="629.12" y="373.25" width="19.62" height="19.62" fill="#838383"/>
<rect x="648.25" y="373.25" width="19.62" height="19.62" fill="#949494"/>
<rect x="667.38" y="373.25" width="19.62" height="19.62" fill="#969696"/>
<rect x="686.50" y="373.25" width="19.62" height="19.62" fill="#959595"/>
<rect x="705.62" y="373.25" width="19.62" height="19.62" fill="#828282"/>
<rect x="724.75" y="373.25" width="19.62" height="19.62" fill="#848484"/>
<rect x="743.88" y="373.25" width="38.75" height="19.62" fill="#5f5f5f"/>
<rect x="131.88" y="392.38" width="38.75" height="19.62" fill="#242424"/>
<rect x="170.12" y="392.38" width="19.62" height="19.62" fill="#626262"/>
<rect x="189.25" y="392.38" width="19.62" height="19.62" fill="#505050"/>
<rect x="208.38" y="392.38" width="57.88" height="19.62" fill="#626262"/>
<rect x="265.75" y="392.38" width="19.62" height="19.62" fill="#535353"/>
<rect x="284.88" y="392.38" width="19.62" height="19.62" fill="#444444"/>
<rect x="304.00" y="392.38" width="38.75" height="19.62" fill="#242424"/>
<rect x="342.25" y="392.38" width="19.62" height="19.62" fill="#505050"/>
<rect x="361.38" y="392.38" width="19.62" height="19.62" fill="#8f8f8f"/>
<rect x="380.50" y="392.38" width="19.62" height="19.62" fill="#969696"/>
<rect x="399.62" y="392.38" width="38.75" height="19.62" fill="#838383"/>
<rect x="437.88" y="392.38" width="19.62" height="19.62" fill="#5f5f5f"/>
<rect x="457.00" y="392.38" width="19.62" height="19.62" fill="#242424"/>
<rect x="476.12" y="392.38" width="19.62" height="19.62" fill="#505050"/>
<rect x="495.25" y="392.38" width="19.62" height="19.62" fill="#4a4a4a"/>
<rect x="514.38" y="392.38" width="19.62" height="19.62" fill="#505050"/>
<rect x="533.50" y="392.38" width="19.62" height="19.62" fill="#4c4c4c"/>
<rect x="552.62" y="392.38" width="19.62" height="19.62" fill="#444444"/>
<rect x="571.75" y="392.38" width="19.62" height="19.62" fill="#4c4c4c"/>
<rect x="590.88" y="392.38" width="19.62" height="19.62" fill="#858585"/>
<rect x="610.00" y="392.38" width="38.75" height="19.62" fill="#838383"/>
<rect x="648.25" y="392.38" width="19.62" height="19.62" fill="#acacac"/>
<rect x="667.38" y="392.38" width="19.62" height="19.62" fill="#ababab"/>
<rect x="686.50" y="392.38" width="57.88" height="19.62" fill="#838383"/>
<rect x="743.88" y="392.38" width="38.75" height="19.62" fill="#727272"/>
<rect x="131.88" y="411.50" width="38.75" height="19.62" fill="#474747"/>
<rect x="170.12" y="411.50" width="19.62" height="19.62" fill="#727272"/>
<rect x="189.25" y="411.50" width="19.62" height="19.62" fill="#626262"/>
<rect x="208.38" y="411.50" width="19.62" height="19.62" fill="#838383"/>
<rect x="227.50" y="411.50" width="19.62" height="19.62" fill="#989898"/>
<rect x="246.62" y="411.50" width="19.62" height="19.62" fill="#858585"/>
<rect x="265.75" y="411.50" width="19.62" height="19.62" fill="#585858"/>
<rect x="284.88" y="411.50" width="19.62" height="19.62" fill="#484848"/>
<rect x="304.00" y="411.50" width="19.62" height="19.62" fill="#303030"/>
<rect x="323.12" y="411.50" width="19.62" height="19.62" fill="#505050"/>
<rect x="342.25" y="411.50" width="19.62" height="19.62" fill="#585858"/>
<rect x="361.38" y="411.50" width="19.62" height="19.62" fill="#5f5f5f"/>
<rect x="380.50" y="411.50" width="19.62" height="19.62" fill="#737373"/>
<rect x="399.62" y="411.50" width="19.62" height="19.62" fill="#626262"/>
<rect x="418.75" y="411.50" width="19.62" height="19.62" fill="#505050"/>
<rect x="437.88" y="411.50" width="19.62" height="19.62" fill="#535353"/>
<rect x="457.00" y="411.50" width="19.62" height="19.62" fill="#4d4d4d"/>
<rect x="476.12" y="411.50" width="19.62" height="19.62" fill="#535353"/>
<rect x="495.25" y="411.50" width="19.62" height="19.62" fill="#626262"/>
<rect x="514.38" y="411.50" width="38.75" height="19.62" fill="#838383"/>
<rect x="552.62" y="411.50" width="19.62" height="19.62" fill="#5f5f5f"/>
<rect x="571.75" y="411.50" width="19.62" height="19.62" fill="#6f6f6f"/>
<rect x="590.88" y="411.50" width="19.62" height="19.62" fill="#727272"/>
<rect x="610.00" y="411.50" width="19.62" height="19.62" fill="#838383"/>
<rect x="629.12" y="411.50" width="19.62" height="19.62" fill="#868686"/>
<rect x="648.25" y="411.50" width="19.62" height="19.62" fill="#838383"/>
<rect x="667.38" y="411.50" width="19.62" height="19.62" fill="#969696"/>
<rect x="686.50" y="411.50" width="19.62" height="19.62" fill="#727272"/>
<rect x="705.62" y="411.50" width="19.62" height="19.62" fill="#626262"/>
<rect x="724.75" y="411.50" width="19.62" height="19.62" fill="#535353"/>
<rect x="743.88" y="411.50" width="38.75" height="19.62" fill="#303030"/>
<rect x="131.88" y="430.62" width="38.75" height="19.62" fill="#727272"/>
<rect x="170.12" y="430.62" width="19.62" height="19.62" fill="#969696"/>
<rect x="189.25" y="430.62" width="19.62" height="19.62" fill="#727272"/>
<rect x="208.38" y="430.62" width="19.62" height="19.62" fill="#838383"/>
<rect x="227.50" y="430.62" width="19.62" height="19.62" fill="#585858"/>
<rect x="246.62" y="430.62" width="19.62" height="19.62" fill="#5b5b5b"/>
<rect x="265.75" y="430.62" width="19.62" height="19.62" fill="#505050"/>
<rect x="284.88" y="430.62" width="19.62" height="19.62" fill="#545454"/>
<rect x="304.00" y="430.62" width="19.62" height="19.62" fill="#505050"/>
<rect x="323.12" y="430.62" width="19.62" height="19.62" fill="#5f5f5f"/>
<rect x="342.25" y="430.62" width="19.62" height="19.62" fill="#505050"/>
<rect x="361.38" y="430.62" width="19.62" height="19.62" fill="#545454"/>
<rect x="380.50" y="430.62" width="19.62" height="19.62" fill="#626262"/>
<rect x="399.62" y="430.62" width="19.62" height="19.62" fill="#535353"/>
<rect x="418.75" y="430.62" width="19.62" height="19.62" fill="#595959"/>
<rect x="437.88" y="430.62" width="19.62" height="19.62" fill="#535353"/>
<rect x="457.00" y="430.62" width="19.62" height="19.62" fill="#505050"/>
<rect x="476.12" y="430.62" width="19.62" height="19.62" fill="#838383"/>
<rect x="495.25" y="430.62" width="19.62" height="19.62" fill="#aaaaaa"/>
<rect x="514.38" y="430.62" width="19.62" height="19.62" fill="#959595"/>
<rect x="533.50" y="430.62" width="19.62" height="19.62" fill="#838383"/>
<rect x="552.62" y="430.62" width="19.62" height="19.62" fill="#555555"/>
<rect x="571.75" y="430.62" width="19.62" height="19.62" fill="#6f6f6f"/>
<rect x="590.88" y="430.62" width="19.62" height="19.62" fill="#747474"/>
<rect x="610.00" y="430.62" width="19.62" height="19.62" fill="#838383"/>
<rect x="629.12" y="430.62" width="19.62" height="19.62" fill="#6f6f6f"/>
<rect x="648.25" y="430.62" width="19.62" height="19.62" fill="#7a7a7a"/>
<rect x="667.38" y="430.62" width="19.62" height="19.62" fill="#696969"/>
<rect x="686.50" y="430.62" width="19.62" height="19.62" fill="#6f6f6f"/>
<rect x="705.62" y="430.62" width="19.62" height="19.62" fill="#5c5c5c"/>
<rect x="724.75" y="430.62" width="19.62" height="19.62" fill="#454545"/>
<rect x="743.88" y="430.62" width="38.75" height="19.62" fill="#242424"/>
<rect x="131.88" y="449.75" width="38.75" height="19.62" fill="#727272"/>
<rect x="170.12" y="449.75" width="38.75" height="19.62" fill="#969696"/>
<rect x="208.38" y="449.75" width="19.62" height="19.62" fill="#626262"/>
<rect x="227.50" y="449.75" width="19.62" height="19.62" fill="#535353"/>
<rect x="246.62" y="449.75" width="19.62" height="19.62" fill="#4d4d4d"/>
<rect x="265.75" y="449.75" width="19.62" height="19.62" fill="#5f5f5f"/>
<rect x="284.88" y="449.75" width="19.62" height="19.62" fill="#535353"/>
<rect x="304.00" y="449.75" width="19.62" height="19.62" fill="#505050"/>
<rect x="323.12" y="449.75" width="19.62" height="19.62" fill="#282828"/>
<rect x="342.25" y="449.75" width="19.62" height="19.62" fill="#5d5d5d"/>
<rect x="361.38" y="449.75" width="19.62" height="19.62" fill="#5f5f5f"/>
<rect x="380.50" y="449.75" width="19.62" height="19.62" fill="#535353"/>
<rect x="399.62" y="449.75" width="19.62" height="19.62" fill="#555555"/>
<rect x="418.75" y="449.75" width="19.62" height="19.62" fill="#505050"/>
<rect x="437.88" y="449.75" width="19.62" height="19.62" fill="#5b5b5b"/>
<rect x="457.00" y="449.75" width="19.62" height="19.62" fill="#838383"/>
<rect x="476.12" y="449.75" width="19.62" height="19.62" fill="#bdbdbd"/>
<rect x="495.25" y="449.75" width="19.62" height="19.62" fill="#e3e3e3"/>
<rect x="514.38" y="449.75" width="19.62" height="19.62" fill="#aeaeae"/>
<rect x="533.50" y="449.75" width="19.62" height="19.62" fill="#9d9d9d"/>
<rect x="552.62" y="449.75" width="19.62" height="19.62" fill="#969696"/>
<rect x="571.75" y="449.75" width="19.62" height="19.62" fill="#838383"/>
<rect x="590.88" y="449.75" width="19.62" height="19.62" fill="#8e8e8e"/>
<rect x="610.00" y="449.75" width="19.62" height="19.62" fill="#969696"/>
<rect x="629.12" y="449.75" width="19.62" height="19.62" fill="#a4a4a4"/>
<rect x="648.25" y="449.75" width="19.62" height="19.62" fill="#949494"/>
<rect x="667.38" y="449.75" width="19.62" height="19.62" fill="#696969"/>
<rect x="686.50" y="449.75" width="19.62" height="19.62" fill="#6a6a6a"/>
<rect x="705.62" y="449.75" width="19.62" height="19.62" fill="#5a5a5a"/>
<rect x="724.75" y="449.75" width="19.62" height="19.62" fill="#535353"/>
<rect x="743.88" y="449.75" width="38.75" height="19.62" fill="#505050"/>
<rect x="131.88" y="468.88" width="38.75" height="19.62" fill="#838383"/>
<rect x="170.12" y="468.88" width="19.62" height="19.62" fill="#969696"/>
<rect x="189.25" y="468.88" width="19.62" height="19.62" fill="#b8b8b8"/>
<rect x="208.38" y="468.88" width="19.62" height="19.62" fill="#919191"/>
<rect x="227.50" y="468.88" width="19.62" height="19.62" fill="#6f6f6f"/>
<rect x="246.62" y="468.88" width="38.75" height="19.62" fill="#545454"/>
<rect x="284.88" y="468.88" width="19.62" height="19.62" fill="#626262"/>
<rect x="304.00" y="468.88" width="57.88" height="19.62" fill="#727272"/>
<rect x="361.38" y="468.88" width="19.62" height="19.62" fill="#565656"/>
<rect x="380.50" y="468.88" width="19.62" height="19.62" fill="#505050"/>
<rect x="399.62" y="468.88" width="19.62" height="19.62" fill="#7e7e7e"/>
<rect x="418.75" y="468.88" width="19.62" height="19.62" fill="#797979"/>
<rect x="437.88" y="468.88" width="19.62" height="19.62" fill="#868686"/>
<rect x="457.00" y="468.88" width="19.62" height="19.62" fill="#838383"/>
<rect x="476.12" y="468.88" width="19.62" height="19.62" fill="#a8a8a8"/>
<rect x="495.25" y="468.88" width="38.75" height="19.62" fill="#e3e3e3"/>
<rect x="533.50" y="468.88" width="19.62" height="19.62" fill="#bcbcbc"/>
<rect x="552.62" y="468.88" width="19.62" height="19.62" fill="#aaaaaa"/>
<rect x="571.75" y="468.88" width="38.75" height="19.62" fill="#838383"/>
<rect x="610.00" y="468.88" width="57.88" height="19.62" fill="#969696"/>
<rect x="667.38" y="468.88" width="19.62" height="19.62" fill="#6b6b6b"/>
<rect x="686.50" y="468.88" width="19.62" height="19.62" fill="#575757"/>
<rect x="705.62" y="468.88" width="38.75" height="19.62" fill="#535353"/>
<rect x="743.88" y="468.88" width="38.75" height="19.62" fill="#444444"/>
<rect x="131.88" y="488.00" width="38.75" height="19.62" fill="#838383"/>
<rect x="170.12" y="488.00" width="19.62" height="19.62" fill="#bdbdbd"/>
<rect x="189.25" y="488.00" width="19.62" height="19.62" fill="#b7b7b7"/>
<rect x="208.38" y="488.00" width="19.62" height="19.62" fill="#a3a3a3"/>
<rect x="227.50" y="488.00" width="19.62" height="19.62" fill="#828282"/>
<rect x="246.62" y="488.00" width="19.62" height="19.62" fill="#838383"/>
<rect x="265.75" y="488.00" width="19.62" height="19.62" fill="#626262"/>
<rect x="284.88" y="488.00" width="19.62" height="19.62" fill="#505050"/>
<rect x="304.00" y="488.00" width="19.62" height="19.62" fill="#626262"/>
<rect x="323.12" y="488.00" width="19.62" height="19.62" fill="#838383"/>
<rect x="342.25" y="488.00" width="19.62" height="19.62" fill="#969696"/>
<rect x="361.38" y="488.00" width="57.88" height="19.62" fill="#727272"/>
<rect x="418.75" y="488.00" width="19.62" height="19.62" fill="#5f5f5f"/>
<rect x="437.88" y="488.00" width="19.62" height="19.62" fill="#737373"/>
<rect x="457.00" y="488.00" width="38.75" height="19.62" fill="#838383"/>
<rect x="495.25" y="488.00" width="19.62" height="19.62" fill="#969696"/>
<rect x="514.38" y="488.00" width="19.62" height="19.62" fill="#999999"/>
<rect x="533.50" y="488.00" width="19.62" height="19.62" fill="#959595"/>
<rect x="552.62" y="488.00" width="19.62" height="19.62" fill="#838383"/>
<rect x="571.75" y="488.00" width="19.62" height="19.62" fill="#6f6f6f"/>
<rect x="590.88" y="488.00" width="19.62" height="19.62" fill="#696969"/>
<rect x="610.00" y="488.00" width="38.75" height="19.62" fill="#969696"/>
<rect x="648.25" y="488.00" width="19.62" height="19.62" fill="#848484"/>
<rect x="667.38" y="488.00" width="19.62" height="19.62" fill="#6c6c6c"/>
<rect x="686.50" y="488.00" width="19.62" height="19.62" fill="#6b6b6b"/>
<rect x="705.62" y="488.00" width="19.62" height="19.62" fill="#747474"/>
<rect x="724.75" y="488.00" width="19.62" height="19.62" fill="#727272"/>
<rect x="743.88" y="488.00" width="38.75" height="19.62" fill="#838383"/>
<rect x="131.88" y="507.12" width="38.75" height="19.62" fill="#626262"/>
<rect x="170.12" y="507.12" width="19.62" height="19.62" fill="#aaaaaa"/>
<rect x="189.25" y="507.12" width="19.62" height="19.62" fill="#bababa"/>
<rect x="208.38" y="507.12" width="19.62" height="19.62" fill="#b5b5b5"/>
<rect x="227.50" y="507.12" width="19.62" height="19.62" fill="#929292"/>
<rect x="246.62" y="507.12" width="19.62" height="19.62" fill="#838383"/>
<rect x="265.75" y="507.12" width="19.62" height="19.62" fill="#626262"/>
<rect x="284.88" y="507.12" width="19.62" height="19.62" fill="#5b5b5b"/>
<rect x="304.00" y="507.12" width="19.62" height="19.62" fill="#535353"/>
<rect x="323.12" y="507.12" width="19.62" height="19.62" fill="#838383"/>
<rect x="342.25" y="507.12" width="19.62" height="19.62" fill="#969696"/>
<rect x="361.38" y="507.12" width="19.62" height="19.62" fill="#838383"/>
<rect x="380.50" y="507.12" width="19.62" height="19.62" fill="#727272"/>
<rect x="399.62" y="507.12" width="19.62" height="19.62" fill="#626262"/>
<rect x="418.75" y="507.12" width="19.62" height="19.62" fill="#6b6b6b"/>
<rect x="437.88" y="507.12" width="19.62" height="19.62" fill="#727272"/>
<rect x="457.00" y="507.12" width="19.62" height="19.62" fill="#969696"/>
<rect x="476.12" y="507.12" width="38.75" height="19.62" fill="#838383"/>
<rect x="514.38" y="507.12" width="19.62" height="19.62" fill="#6f6f6f"/>
<rect x="533.50" y="507.12" width="19.62" height="19.62" fill="#636363"/>
<rect x="552.62" y="507.12" width="19.62" height="19.62" fill="#6a6a6a"/>
<rect x="571.75" y="507.12" width="19.62" height="19.62" fill="#6f6f6f"/>
<rect x="590.88" y="507.12" width="38.75" height="19.62" fill="#969696"/>
<rect x="629.12" y="507.12" width="38.75" height="19.62" fill="#838383"/>
<rect x="667.38" y="507.12" width="19.62" height="19.62" fill="#727272"/>
<rect x="686.50" y="507.12" width="38.75" height="19.62" fill="#535353"/>
<rect x="724.75" y="507.12" width="19.62" height="19.62" fill="#626262"/>
<rect x="743.88" y="507.12" width="38.75" height="19.62" fill="#686868"/>
<rect x="131.88" y="526.25" width="38.75" height="19.62" fill="#6e6e6e"/>
<rect x="170.12" y="526.25" width="57.88" height="19.62" fill="#838383"/>
<rect x="227.50" y="526.25" width="19.62" height="19.62" fill="#585858"/>
<rect x="246.62" y="526.25" width="19.62" height="19.62" fill="#5f5f5f"/>
<rect x="265.75" y="526.25" width="19.62" height="19.62" fill="#5c5c5c"/>
<rect x="284.88" y="526.25" width="19.62" height="19.62" fill="#565656"/>
<rect x="304.00" y="526.25" width="19.62" height="19.62" fill="#626262"/>
<rect x="323.12" y="526.25" width="19.62" height="19.62" fill="#545454"/>
<rect x="342.25" y="526.25" width="19.62" height="19.62" fill="#575757"/>
<rect x="361.38" y="526.25" width="19.62" height="19.62" fill="#626262"/>
<rect x="380.50" y="526.25" width="19.62" height="19.62" fill="#838383"/>
<rect x="399.62" y="526.25" width="19.62" height="19.62" fill="#6f6f6f"/>
<rect x="418.75" y="526.25" width="19.62" height="19.62" fill="#878787"/>
<rect x="437.88" y="526.25" width="38.75" height="19.62" fill="#969696"/>
<rect x="476.12" y="526.25" width="19.62" height="19.62" fill="#797979"/>
<rect x="495.25" y="526.25" width="19.62" height="19.62" fill="#595959"/>
<rect x="514.38" y="526.25" width="19.62" height="19.62" fill="#626262"/>
<rect x="533.50" y="526.25" width="19.62" height="19.62" fill="#535353"/>
<rect x="552.62" y="526.25" width="19.62" height="19.62" fill="#646464"/>
<rect x="571.75" y="526.25" width="19.62" height="19.62" fill="#848484"/>
<rect x="590.88" y="526.25" width="38.75" height="19.62" fill="#969696"/>
<rect x="629.12" y="526.25" width="38.75" height="19.62" fill="#5f5f5f"/>
<rect x="667.38" y="526.25" width="19.62" height="19.62" fill="#656565"/>
<rect x="686.50" y="526.25" width="19.62" height="19.62" fill="#5b5b5b"/>
<rect x="705.62" y="526.25" width="19.62" height="19.62" fill="#505050"/>
<rect x="724.75" y="526.25" width="19.62" height="19.62" fill="#626262"/>
<rect x="743.88" y="526.25" width="38.75" height="19.62" fill="#666666"/>
<rect x="131.88" y="545.38" width="38.75" height="19.62" fill="#838383"/>
<rect x="170.12" y="545.38" width="19.62" height="19.62" fill="#727272"/>
<rect x="189.25" y="545.38" width="19.62" height="19.62" fill="#555555"/>
<rect x="208.38" y="545.38" width="19.62" height="19.62" fill="#737373"/>
<rect x="227.50" y="545.38" width="19.62" height="19.62" fill="#727272"/>
<rect x="246.62" y="545.38" width="19.62" height="19.62" fill="#626262"/>
<rect x="265.75" y="545.38" width="19.62" height="19.62" fill="#464646"/>
<rect x="284.88" y="545.38" width="19.62" height="19.62" fill="#545454"/>
<rect x="304.00" y="545.38" width="19.62" height="19.62" fill="#626262"/>
<rect x="323.12" y="545.38" width="19.62" height="19.62" fill="#5f5f5f"/>
<rect x="342.25" y="545.38" width="19.62" height="19.62" fill="#535353"/>
<rect x="361.38" y="545.38" width="19.62" height="19.62" fill="#656565"/>
<rect x="380.50" y="545.38" width="19.62" height="19.62" fill="#6f6f6f"/>
<rect x="399.62" y="545.38" width="38.75" height="19.62" fill="#838383"/>
<rect x="437.88" y="545.38" width="19.62" height="19.62" fill="#969696"/>
<rect x="457.00" y="545.38" width="19.62" height="19.62" fill="#626262"/>
<rect x="476.12" y="545.38" width="19.62" height="19.62" fill="#262626"/>
<rect x="495.25" y="545.38" width="19.62" height="19.62" fill="#2a2a2a"/>
<rect x="514.38" y="545.38" width="19.62" height="19.62" fill="#505050"/>
<rect x="533.50" y="545.38" width="38.75" height="19.62" fill="#303030"/>
<rect x="571.75" y="545.38" width="19.62" height="19.62" fill="#505050"/>
<rect x="590.88" y="545.38" width="19.62" height="19.62" fill="#595959"/>
<rect x="610.00" y="545.38" width="19.62" height="19.62" fill="#535353"/>
<rect x="629.12" y="545.38" width="19.62" height="19.62" fill="#727272"/>
<rect x="648.25" y="545.38" width="19.62" height="19.62" fill="#555555"/>
<rect x="667.38" y="545.38" width="19.62" height="19.62" fill="#545454"/>
<rect x="686.50" y="545.38" width="19.62" height="19.62" fill="#4e4e4e"/>
<rect x="705.62" y="545.38" width="19.62" height="19.62" fill="#444444"/>
<rect x="724.75" y="545.38" width="19.62" height="19.62" fill="#535353"/>
<rect x="743.88" y="545.38" width="38.75" height="19.62" fill="#5d5d5d"/>
<rect x="131.88" y="564.50" width="38.75" height="19.62" fill="#505050"/>
<rect x="170.12" y="564.50" width="19.62" height="19.62" fill="#555555"/>
<rect x="189.25" y="564.50" width="19.62" height="19.62" fill="#4e4e4e"/>
<rect x="208.38" y="564.50" width="19.62" height="19.62" fill="#5f5f5f"/>
<rect x="227.50" y="564.50" width="19.62" height="19.62" fill="#535353"/>
<rect x="246.62" y="564.50" width="19.62" height="19.62" fill="#505050"/>
<rect x="265.75" y="564.50" width="19.62" height="19.62" fill="#4d4d4d"/>
<rect x="284.88" y="564.50" width="19.62" height="19.62" fill="#626262"/>
<rect x="304.00" y="564.50" width="19.62" height="19.62" fill="#969696"/>
<rect x="323.12" y="564.50" width="19.62" height="19.62" fill="#838383"/>
<rect x="342.25" y="564.50" width="19.62" height="19.62" fill="#646464"/>
<rect x="361.38" y="564.50" width="19.62" height="19.62" fill="#626262"/>
<rect x="380.50" y="564.50" width="19.62" height="19.62" fill="#747474"/>
<rect x="399.62" y="564.50" width="19.62" height="19.62" fill="#727272"/>
<rect x="418.75" y="564.50" width="19.62" height="19.62" fill="#636363"/>
<rect x="437.88" y="564.50" width="19.62" height="19.62" fill="#555555"/>
<rect x="457.00" y="564.50" width="19.62" height="19.62" fill="#292929"/>
<rect x="476.12" y="564.50" width="19.62" height="19.62" fill="#242424"/>
<rect x="495.25" y="564.50" width="19.62" height="19.62" fill="#303030"/>
<rect x="514.38" y="564.50" width="77.00" height="19.62" fill="#242424"/>
<rect x="590.88" y="564.50" width="19.62" height="19.62" fill="#505050"/>
<rect x="610.00" y="564.50" width="19.62" height="19.62" fill="#444444"/>
<rect x="629.12" y="564.50" width="19.62" height="19.62" fill="#5c5c5c"/>
<rect x="648.25" y="564.50" width="19.62" height="19.62" fill="#292929"/>
<rect x="667.38" y="564.50" width="19.62" height="19.62" fill="#242424"/>
<rect x="686.50" y="564.50" width="19.62" height="19.62" fill="#303030"/>
<rect x="705.62" y="564.50" width="38.75" height="19.62" fill="#242424"/>
<rect x="743.88" y="564.50" width="38.75" height="19.62" fill="#6f6f6f"/>
<rect x="131.88" y="583.62" width="38.75" height="19.62" fill="#4e4e4e"/>
<rect x="170.12" y="583.62" width="19.62" height="19.62" fill="#595959"/>
<rect x="189.25" y="583.62" width="19.62" height="19.62" fill="#626262"/>
<rect x="208.38" y="583.62" width="19.62" height="19.62" fill="#555555"/>
<rect x="227.50" y="583.62" width="19.62" height="19.62" fill="#545454"/>
<rect x="246.62" y="583.62" width="19.62" height="19.62" fill="#4a4a4a"/>
<rect x="265.75" y="583.62" width="19.62" height="19.62" fill="#727272"/>
<rect x="284.88" y="583.62" width="19.62" height="19.62" fill="#ababab"/>
<rect x="304.00" y="583.62" width="19.62" height="19.62" fill="#cacaca"/>
<rect x="323.12" y="583.62" width="19.62" height="19.62" fill="#adadad"/>
<rect x="342.25" y="583.62" width="19.62" height="19.62" fill="#828282"/>
<rect x="361.38" y="583.62" width="19.62" height="19.62" fill="#595959"/>
<rect x="380.50" y="583.62" width="19.62" height="19.62" fill="#535353"/>
<rect x="399.62" y="583.62" width="19.62" height="19.62" fill="#626262"/>
<rect x="418.75" y="583.62" width="19.62" height="19.62" fill="#565656"/>
<rect x="437.88" y="583.62" width="19.62" height="19.62" fill="#5a5a5a"/>
<rect x="457.00" y="583.62" width="19.62" height="19.62" fill="#242424"/>
<rect x="476.12" y="583.62" width="19.62" height="19.62" fill="#4f4f4f"/>
<rect x="495.25" y="583.62" width="19.62" height="19.62" fill="#505050"/>
<rect x="514.38" y="583.62" width="19.62" height="19.62" fill="#303030"/>
<rect x="533.50" y="583.62" width="57.88" height="19.62" fill="#242424"/>
<rect x="590.88" y="583.62" width="19.62" height="19.62" fill="#2e2e2e"/>
<rect x="610.00" y="583.62" width="19.62" height="19.62" fill="#444444"/>
<rect x="629.12" y="583.62" width="19.62" height="19.62" fill="#535353"/>
<rect x="648.25" y="583.62" width="19.62" height="19.62" fill="#484848"/>
<rect x="667.38" y="583.62" width="19.62" height="19.62" fill="#565656"/>
<rect x="686.50" y="583.62" width="19.62" height="19.62" fill="#4c4c4c"/>
<rect x="705.62" y="583.62" width="38.75" height="19.62" fill="#505050"/>
<rect x="743.88" y="583.62" width="38.75" height="19.62" fill="#838383"/>
<rect x="131.88" y="602.75" width="38.75" height="19.62" fill="#444444"/>
<rect x="170.12" y="602.75" width="19.62" height="19.62" fill="#4b4b4b"/>
<rect x="189.25" y="602.75" width="19.62" height="19.62" fill="#535353"/>
<rect x="208.38" y="602.75" width="19.62" height="19.62" fill="#5f5f5f"/>
<rect x="227.50" y="602.75" width="19.62" height="19.62" fill="#5c5c5c"/>
<rect x="246.62" y="602.75" width="19.62" height="19.62" fill="#505050"/>
<rect x="265.75" y="602.75" width="19.62" height="19.62" fill="#838383"/>
<rect x="284.88" y="602.75" width="19.62" height="19.62" fill="#979797"/>
<rect x="304.00" y="602.75" width="19.62" height="19.62" fill="#adadad"/>
<rect x="323.12" y="602.75" width="19.62" height="19.62" fill="#e3e3e3"/>
<rect x="342.25" y="602.75" width="19.62" height="19.62" fill="#787878"/>
<rect x="361.38" y="602.75" width="19.62" height="19.62" fill="#505050"/>
<rect x="380.50" y="602.75" width="19.62" height="19.62" fill="#555555"/>
<rect x="399.62" y="602.75" width="38.75" height="19.62" fill="#626262"/>
<rect x="437.88" y="602.75" width="19.62" height="19.62" fill="#4e4e4e"/>
<rect x="457.00" y="602.75" width="19.62" height="19.62" fill="#262626"/>
<rect x="476.12" y="602.75" width="19.62" height="19.62" fill="#444444"/>
<rect x="495.25" y="602.75" width="38.75" height="19.62" fill="#535353"/>
<rect x="533.50" y="602.75" width="19.62" height="19.62" fill="#575757"/>
<rect x="552.62" y="602.75" width="19.62" height="19.62" fill="#585858"/>
<rect x="571.75" y="602.75" width="19.62" height="19.62" fill="#626262"/>
<rect x="590.88" y="602.75" width="19.62" height="19.62" fill="#727272"/>
<rect x="610.00" y="602.75" width="19.62" height="19.62" fill="#676767"/>
<rect x="629.12" y="602.75" width="19.62" height="19.62" fill="#737373"/>
<rect x="648.25" y="602.75" width="19.62" height="19.62" fill="#5d5d5d"/>
<rect x="667.38" y="602.75" width="19.62" height="19.62" fill="#4f4f4f"/>
<rect x="686.50" y="602.75" width="19.62" height="19.62" fill="#676767"/>
<rect x="705.62" y="602.75" width="19.62" height="19.62" fill="#838383"/>
<rect x="724.75" y="602.75" width="19.62" height="19.62" fill="#969696"/>
<rect x="743.88" y="602.75" width="38.75" height="19.62" fill="#aaaaaa"/>
<rect x="131.88" y="621.88" width="38.75" height="19.62" fill="#242424"/>
<rect x="170.12" y="621.88" width="19.62" height="19.62" fill="#555555"/>
<rect x="189.25" y="621.88" width="57.88" height="19.62" fill="#838383"/>
<rect x="246.62" y="621.88" width="19.62" height="19.62" fill="#969696"/>
<rect x="265.75" y="621.88" width="19.62" height="19.62" fill="#949494"/>
<rect x="284.88" y="621.88" width="19.62" height="19.62" fill="#5d5d5d"/>
<rect x="304.00" y="621.88" width="19.62" height="19.62" fill="#b4b4b4"/>
<rect x="323.12" y="621.88" width="19.62" height="19.62" fill="#acacac"/>
<rect x="342.25" y="621.88" width="19.62" height="19.62" fill="#828282"/>
<rect x="361.38" y="621.88" width="19.62" height="19.62" fill="#696969"/>
<rect x="380.50" y="621.88" width="19.62" height="19.62" fill="#636363"/>
<rect x="399.62" y="621.88" width="19.62" height="19.62" fill="#727272"/>
<rect x="418.75" y="621.88" width="19.62" height="19.62" fill="#626262"/>
<rect x="437.88" y="621.88" width="19.62" height="19.62" fill="#505050"/>
<rect x="457.00" y="621.88" width="19.62" height="19.62" fill="#252525"/>
<rect x="476.12" y="621.88" width="19.62" height="19.62" fill="#535353"/>
<rect x="495.25" y="621.88" width="19.62" height="19.62" fill="#545454"/>
<rect x="514.38" y="621.88" width="19.62" height="19.62" fill="#555555"/>
<rect x="533.50" y="621.88" width="19.62" height="19.62" fill="#636363"/>
<rect x="552.62" y="621.88" width="19.62" height="19.62" fill="#838383"/>
<rect x="571.75" y="621.88" width="19.62" height="19.62" fill="#ababab"/>
<rect x="590.88" y="621.88" width="19.62" height="19.62" fill="#c6c6c6"/>
<rect x="610.00" y="621.88" width="19.62" height="19.62" fill="#8e8e8e"/>
<rect x="629.12" y="621.88" width="19.62" height="19.62" fill="#adadad"/>
<rect x="648.25" y="621.88" width="19.62" height="19.62" fill="#aeaeae"/>
<rect x="667.38" y="621.88" width="19.62" height="19.62" fill="#cacaca"/>
<rect x="686.50" y="621.88" width="19.62" height="19.62" fill="#aeaeae"/>
<rect x="705.62" y="621.88" width="19.62" height="19.62" fill="#adadad"/>
<rect x="724.75" y="621.88" width="19.62" height="19.62" fill="#cacaca"/>
<rect x="743.88" y="621.88" width="38.75" height="19.62" fill="#ababab"/>
<rect x="131.88" y="641.00" width="38.75" height="19.62" fill="#242424"/>
<rect x="170.12" y="641.00" width="19.62" height="19.62" fill="#555555"/>
<rect x="189.25" y="641.00" width="57.88" height="19.62" fill="#838383"/>
<rect x="246.62" y="641.00" width="19.62" height="19.62" fill="#969696"/>
<rect x="265.75" y="641.00" width="19.62" height="19.62" fill="#949494"/>
<rect x="284.88" y="641.00" width="19.62" height="19.62" fill="#5d5d5d"/>
<rect x="304.00" y="641.00" width="19.62" height="19.62" fill="#b4b4b4"/>
<rect x="323.12" y="641.00" width="19.62" height="19.62" fill="#acacac"/>
<rect x="342.25" y="641.00" width="19.62" height="19.62" fill="#828282"/>
<rect x="361.38" y="641.00" width="19.62" height="19.62" fill="#696969"/>
<rect x="380.50" y="641.00" width="19.62" height="19.62" fill="#636363"/>
<rect x="399.62" y="641.00" width="19.62" height="19.62" fill="#727272"/>
<rect x="418.75" y="641.00" width="19.62" height="19.62" fill="#626262"/>
<rect x="437.88" y="641.00" width="19.62" height="19.62" fill="#505050"/>
<rect x="457.00" y="641.00" width="19.62" height="19.62" fill="#252525"/>
<rect x="476.12" y="641.00" width="19.62" height="19.62" fill="#535353"/>
<rect x="495.25" y="641.00" width="19.62" height="19.62" fill="#545454"/>
<rect x="514.38" y="641.00" width="19.62" height="19.62" fill="#555555"/>
<rect x="533.50" y="641.00" width="19.62" height="19.62" fill="#636363"/>
<rect x="552.62" y="641.00" width="19.62" height="19.62" fill="#838383"/>
<rect x="571.75" y="641.00" width="19.62" height="19.62" fill="#ababab"/>
<rect x="590.88" y="641.00" width="19.62" height="19.62" fill="#c6c6c6"/>
<rect x="610.00" y="641.00" width="19.62" height="19.62" fill="#8e8e8e"/>
<rect x="629.12" y="641.00" width="19.62" height="19.62" fill="#adadad"/>
<rect x="648.25" y="641.00" width="19.62" height="19.62" fill="#aeaeae"/>
<rect x="667.38" y="641.00" width="19.62" height="19.62" fill="#cacaca"/>
<rect x="686.50" y="641.00" width="19.62" height="19.62" fill="#aeaeae"/>
<rect x="705.62" y="641.00" width="19.62" height="19.62" fill="#adadad"/>
<rect x="724.75" y="641.00" width="19.62" height="19.62" fill="#cacaca"/>
<rect x="743.88" y="641.00" width="38.75" height="19.62" fill="#ababab"/>
</g>
<g filter="url(#b3)">
<ellipse cx="390.1" cy="32.6" rx="23.9" ry="6.0" fill="#c9c9c9" fill-opacity="0.60"/>
<ellipse cx="447.4" cy="170.0" rx="14.3" ry="12.0" fill="#c9c9c9" fill-opacity="0.60"/>
<ellipse cx="241.8" cy="153.3" rx="9.6" ry="9.6" fill="#a6a6a6" fill-opacity="0.60"/>
<ellipse cx="739.1" cy="119.8" rx="14.3" ry="12.0" fill="#c9c9c9" fill-opacity="0.60"/>
<ellipse cx="648.2" cy="48.1" rx="14.3" ry="9.6" fill="#a6a6a6" fill-opacity="0.60"/>
<ellipse cx="461.8" cy="31.4" rx="9.6" ry="4.8" fill="#c9c9c9" fill-opacity="0.60"/>
<ellipse cx="289.7" cy="201.1" rx="14.3" ry="12.0" fill="#c9c9c9" fill-opacity="0.60"/>
<ellipse cx="308.8" cy="229.8" rx="14.3" ry="12.0" fill="#a6a6a6" fill-opacity="0.60"/>
<ellipse cx="437.9" cy="186.8" rx="19.1" ry="7.2" fill="#c9c9c9" fill-opacity="0.60"/>
<ellipse cx="425.9" cy="205.9" rx="23.9" ry="12.0" fill="#a6a6a6" fill-opacity="0.60"/>
<ellipse cx="447.4" cy="311.1" rx="10.8" ry="23.9" fill="#c9c9c9" fill-opacity="0.60"/>
<ellipse cx="471.3" cy="306.3" rx="16.7" ry="26.3" fill="#c9c9c9" fill-opacity="0.60"/>
<ellipse cx="672.2" cy="194.0" rx="14.3" ry="7.2" fill="#a6a6a6" fill-opacity="0.60"/>
<ellipse cx="703.2" cy="210.7" rx="14.3" ry="7.2" fill="#a6a6a6" fill-opacity="0.60"/>
<ellipse cx="210.8" cy="480.8" rx="19.1" ry="9.6" fill="#c9c9c9" fill-opacity="0.60"/>
<ellipse cx="445.0" cy="344.6" rx="12.0" ry="9.6" fill="#a6a6a6" fill-opacity="0.60"/>
<ellipse cx="516.8" cy="461.7" rx="28.7" ry="14.3" fill="#c9c9c9" fill-opacity="0.60"/>
<ellipse cx="514.4" cy="478.4" rx="23.9" ry="9.6" fill="#c9c9c9" fill-opacity="0.60"/>
<ellipse cx="662.6" cy="394.8" rx="12.0" ry="9.6" fill="#a6a6a6" fill-opacity="0.60"/>
<ellipse cx="700.8" cy="372.1" rx="9.6" ry="4.8" fill="#a6a6a6" fill-opacity="0.60"/>
<ellipse cx="645.9" cy="455.7" rx="9.6" ry="4.8" fill="#c9c9c9" fill-opacity="0.60"/>
<ellipse cx="194.0" cy="492.8" rx="14.3" ry="7.2" fill="#c9c9c9" fill-opacity="0.60"/>
<ellipse cx="213.2" cy="511.9" rx="19.1" ry="9.6" fill="#c9c9c9" fill-opacity="0.60"/>
<ellipse cx="318.3" cy="598.0" rx="23.9" ry="12.0" fill="#a6a6a6" fill-opacity="0.60"/>
<ellipse cx="339.9" cy="607.5" rx="9.6" ry="7.2" fill="#c9c9c9" fill-opacity="0.60"/>
<ellipse cx="306.4" cy="636.2" rx="35.9" ry="6.0" fill="#a6a6a6" fill-opacity="0.60"/>
<ellipse cx="672.2" cy="632.6" rx="90.8" ry="7.2" fill="#a6a6a6" fill-opacity="0.60"/>
<ellipse cx="523.9" cy="495.2" rx="12.0" ry="7.2" fill="#c9c9c9" fill-opacity="0.60"/>
</g>
<g filter="url(#b2)">
<ellipse cx="397.2" cy="91.2" rx="39.4" ry="27.5" fill="#050505" fill-opacity="0.90"/>
<ellipse cx="375.7" cy="117.5" rx="21.5" ry="12.0" fill="#212121" fill-opacity="0.85"/>
<ellipse cx="433.1" cy="76.8" rx="9.6" ry="9.6" fill="#383838" fill-opacity="0.85"/>
<ellipse cx="283.7" cy="84.5" rx="35.9" ry="14.8" fill="#050505" fill-opacity="0.90"/>
<ellipse cx="265.8" cy="105.5" rx="14.3" ry="7.2" fill="#383838" fill-opacity="0.85"/>
<ellipse cx="347.0" cy="68.4" rx="9.6" ry="7.2" fill="#212121" fill-opacity="0.85"/>
<ellipse cx="327.9" cy="119.8" rx="14.3" ry="8.4" fill="#212121" fill-opacity="0.85"/>
<ellipse cx="237.1" cy="51.7" rx="10.8" ry="6.0" fill="#383838" fill-opacity="0.85"/>
<ellipse cx="287.3" cy="54.1" rx="9.6" ry="4.8" fill="#383838" fill-opacity="0.85"/>
<ellipse cx="174.9" cy="57.7" rx="10.8" ry="5.3" fill="#383838" fill-opacity="0.85"/>
<ellipse cx="201.2" cy="60.1" rx="7.2" ry="4.8" fill="#383838" fill-opacity="0.85"/>
<ellipse cx="194.0" cy="79.2" rx="21.5" ry="7.2" fill="#383838" fill-opacity="0.85"/>
<ellipse cx="172.5" cy="91.2" rx="12.0" ry="7.2" fill="#212121" fill-opacity="0.85"/>
<ellipse cx="237.1" cy="81.6" rx="7.2" ry="6.0" fill="#383838" fill-opacity="0.85"/>
<ellipse cx="189.2" cy="38.6" rx="12.0" ry="3.6" fill="#383838" fill-opacity="0.85"/>
<ellipse cx="186.9" cy="135.4" rx="7.2" ry="5.3" fill="#383838" fill-opacity="0.85"/>
<ellipse cx="208.4" cy="143.8" rx="13.1" ry="6.0" fill="#383838" fill-opacity="0.85"/>
<ellipse cx="359.0" cy="42.1" rx="6.0" ry="3.6" fill="#4f4f4f" fill-opacity="0.70"/>
<ellipse cx="421.1" cy="43.3" rx="6.0" ry="4.3" fill="#4f4f4f" fill-opacity="0.70"/>
<ellipse cx="390.1" cy="174.8" rx="8.4" ry="7.2" fill="#383838" fill-opacity="0.85"/>
<ellipse cx="327.9" cy="143.8" rx="12.0" ry="7.2" fill="#4f4f4f" fill-opacity="0.70"/>
<ellipse cx="347.0" cy="159.3" rx="9.6" ry="4.8" fill="#4f4f4f" fill-opacity="0.70"/>
<ellipse cx="239.5" cy="122.2" rx="6.0" ry="4.8" fill="#383838" fill-opacity="0.85"/>
<ellipse cx="452.2" cy="52.9" rx="4.8" ry="7.2" fill="#383838" fill-opacity="0.85"/>
<ellipse cx="512.0" cy="54.1" rx="12.0" ry="8.4" fill="#212121" fill-opacity="0.85"/>
<ellipse cx="516.8" cy="72.0" rx="16.7" ry="9.6" fill="#212121" fill-opacity="0.85"/>
<ellipse cx="571.8" cy="51.7" rx="12.0" ry="6.0" fill="#212121" fill-opacity="0.85"/>
<ellipse cx="642.3" cy="67.2" rx="9.6" ry="7.2" fill="#212121" fill-opacity="0.85"/>
<ellipse cx="641.1" cy="97.1" rx="16.7" ry="9.6" fill="#212121" fill-opacity="0.85"/>
<ellipse cx="593.3" cy="68.4" rx="12.0" ry="6.0" fill="#383838" fill-opacity="0.85"/>
<ellipse cx="751.0" cy="43.3" rx="26.3" ry="23.9" fill="#050505" fill-opacity="0.90"/>
<ellipse cx="696.1" cy="76.8" rx="9.6" ry="6.0" fill="#383838" fill-opacity="0.85"/>
<ellipse cx="466.6" cy="105.5" rx="10.8" ry="7.2" fill="#212121" fill-opacity="0.85"/>
<ellipse cx="528.7" cy="93.5" rx="12.0" ry="7.2" fill="#383838" fill-opacity="0.85"/>
<ellipse cx="528.7" cy="110.3" rx="16.7" ry="7.2" fill="#212121" fill-opacity="0.85"/>
<ellipse cx="516.8" cy="115.1" rx="12.0" ry="7.2" fill="#383838" fill-opacity="0.85"/>
<ellipse cx="571.8" cy="93.5" rx="14.3" ry="9.6" fill="#383838" fill-opacity="0.85"/>
<ellipse cx="552.6" cy="100.7" rx="12.0" ry="7.2" fill="#383838" fill-opacity="0.85"/>
<ellipse cx="500.0" cy="127.0" rx="9.6" ry="5.3" fill="#383838" fill-opacity="0.85"/>
<ellipse cx="543.1" cy="128.2" rx="10.8" ry="6.0" fill="#383838" fill-opacity="0.85"/>
<ellipse cx="480.9" cy="136.6" rx="9.6" ry="4.8" fill="#4f4f4f" fill-opacity="0.70"/>
<ellipse cx="471.3" cy="155.7" rx="9.6" ry="7.2" fill="#383838" fill-opacity="0.85"/>
<ellipse cx="480.9" cy="153.3" rx="7.2" ry="4.8" fill="#383838" fill-opacity="0.85"/>
<ellipse cx="514.4" cy="178.4" rx="28.7" ry="6.0" fill="#050505" fill-opacity="0.90"/>
<ellipse cx="552.6" cy="148.5" rx="9.6" ry="4.8" fill="#4f4f4f" fill-opacity="0.70"/>
<ellipse cx="552.6" cy="165.3" rx="12.0" ry="4.8" fill="#4f4f4f" fill-opacity="0.70"/>
<ellipse cx="595.7" cy="170.0" rx="14.3" ry="6.0" fill="#4f4f4f" fill-opacity="0.70"/>
<ellipse cx="676.9" cy="142.6" rx="10.8" ry="7.2" fill="#383838" fill-opacity="0.85"/>
<ellipse cx="696.1" cy="149.7" rx="9.6" ry="4.8" fill="#212121" fill-opacity="0.85"/>
<ellipse cx="216.7" cy="214.3" rx="28.7" ry="19.1" fill="#050505" fill-opacity="0.90"/>
<ellipse cx="196.4" cy="191.6" rx="10.8" ry="4.8" fill="#383838" fill-opacity="0.85"/>
<ellipse cx="191.6" cy="239.4" rx="14.3" ry="6.0" fill="#212121" fill-opacity="0.85"/>
<ellipse cx="182.1" cy="258.5" rx="14.3" ry="6.0" fill="#212121" fill-opacity="0.85"/>
<ellipse cx="213.2" cy="257.3" rx="8.4" ry="6.0" fill="#212121" fill-opacity="0.85"/>
<ellipse cx="225.1" cy="270.5" rx="7.2" ry="7.2" fill="#212121" fill-opacity="0.85"/>
<ellipse cx="174.9" cy="272.8" rx="12.0" ry="7.2" fill="#383838" fill-opacity="0.85"/>
<ellipse cx="194.0" cy="274.0" rx="7.2" ry="4.8" fill="#383838" fill-opacity="0.85"/>
<ellipse cx="160.6" cy="239.4" rx="7.2" ry="4.8" fill="#383838" fill-opacity="0.85"/>
<ellipse cx="275.3" cy="237.0" rx="7.2" ry="6.0" fill="#4f4f4f" fill-opacity="0.70"/>
<ellipse cx="370.9" cy="243.0" rx="9.6" ry="6.7" fill="#212121" fill-opacity="0.85"/>
<ellipse cx="349.4" cy="256.1" rx="9.6" ry="4.8" fill="#4f4f4f" fill-opacity="0.70"/>
<ellipse cx="366.2" cy="277.6" rx="35.9" ry="14.3" fill="#050505" fill-opacity="0.90"/>
<ellipse cx="342.2" cy="301.5" rx="28.7" ry="14.3" fill="#212121" fill-opacity="0.85"/>
<ellipse cx="299.2" cy="275.2" rx="7.2" ry="6.0" fill="#212121" fill-opacity="0.85"/>
<ellipse cx="275.3" cy="287.2" rx="9.6" ry="9.6" fill="#383838" fill-opacity="0.85"/>
<ellipse cx="275.3" cy="303.9" rx="9.6" ry="7.2" fill="#212121" fill-opacity="0.85"/>
<ellipse cx="423.5" cy="277.6" rx="8.4" ry="6.0" fill="#212121" fill-opacity="0.85"/>
<ellipse cx="311.2" cy="327.8" rx="23.9" ry="8.4" fill="#050505" fill-opacity="0.90"/>
<ellipse cx="504.8" cy="186.8" rx="21.5" ry="6.0" fill="#212121" fill-opacity="0.85"/>
<ellipse cx="502.4" cy="217.9" rx="26.3" ry="15.5" fill="#212121" fill-opacity="0.85"/>
<ellipse cx="581.3" cy="210.7" rx="26.3" ry="21.5" fill="#050505" fill-opacity="0.90"/>
<ellipse cx="540.7" cy="237.0" rx="19.1" ry="12.0" fill="#050505" fill-opacity="0.90"/>
<ellipse cx="633.9" cy="229.8" rx="23.9" ry="13.1" fill="#050505" fill-opacity="0.90"/>
<ellipse cx="598.0" cy="237.0" rx="12.0" ry="9.6" fill="#212121" fill-opacity="0.85"/>
<ellipse cx="578.9" cy="245.4" rx="7.2" ry="6.0" fill="#212121" fill-opacity="0.85"/>
<ellipse cx="667.4" cy="216.7" rx="8.4" ry="6.0" fill="#383838" fill-opacity="0.85"/>
<ellipse cx="705.6" cy="246.5" rx="28.7" ry="7.2" fill="#383838" fill-opacity="0.85"/>
<ellipse cx="720.0" cy="244.2" rx="14.3" ry="6.0" fill="#212121" fill-opacity="0.85"/>
<ellipse cx="650.6" cy="266.9" rx="13.1" ry="8.4" fill="#212121" fill-opacity="0.85"/>
<ellipse cx="622.0" cy="263.3" rx="7.2" ry="7.2" fill="#212121" fill-opacity="0.85"/>
<ellipse cx="684.1" cy="270.5" rx="17.9" ry="5.3" fill="#212121" fill-opacity="0.85"/>
<ellipse cx="736.7" cy="265.7" rx="9.6" ry="7.2" fill="#212121" fill-opacity="0.85"/>
<ellipse cx="538.3" cy="269.3" rx="8.4" ry="5.3" fill="#383838" fill-opacity="0.85"/>
<ellipse cx="519.2" cy="282.4" rx="12.0" ry="5.3" fill="#383838" fill-opacity="0.85"/>
<ellipse cx="662.6" cy="294.4" rx="10.8" ry="8.4" fill="#212121" fill-opacity="0.85"/>
<ellipse cx="705.6" cy="300.3" rx="15.5" ry="8.4" fill="#212121" fill-opacity="0.85"/>
<ellipse cx="691.3" cy="284.8" rx="9.6" ry="3.6" fill="#212121" fill-opacity="0.85"/>
<ellipse cx="734.3" cy="287.2" rx="7.2" ry="4.8" fill="#383838" fill-opacity="0.85"/>
<ellipse cx="736.7" cy="303.9" rx="9.6" ry="6.0" fill="#383838" fill-opacity="0.85"/>
<ellipse cx="622.0" cy="306.3" rx="9.6" ry="8.4" fill="#212121" fill-opacity="0.85"/>
<ellipse cx="600.4" cy="292.0" rx="7.2" ry="3.6" fill="#383838" fill-opacity="0.85"/>
<ellipse cx="564.6" cy="296.8" rx="7.2" ry="3.6" fill="#383838" fill-opacity="0.85"/>
<ellipse cx="662.6" cy="325.4" rx="20.3" ry="12.0" fill="#050505" fill-opacity="0.90"/>
<ellipse cx="547.8" cy="313.5" rx="12.0" ry="3.6" fill="#4f4f4f" fill-opacity="0.70"/>
<ellipse cx="576.5" cy="323.0" rx="10.8" ry="7.2" fill="#383838" fill-opacity="0.85"/>
<ellipse cx="509.6" cy="330.2" rx="16.7" ry="4.8" fill="#383838" fill-opacity="0.85"/>
<ellipse cx="753.4" cy="215.5" rx="12.0" ry="9.6" fill="#383838" fill-opacity="0.85"/>
<ellipse cx="755.8" cy="186.8" rx="7.2" ry="4.8" fill="#383838" fill-opacity="0.85"/>
<ellipse cx="306.4" cy="347.0" rx="35.9" ry="13.1" fill="#050505" fill-opacity="0.90"/>
<ellipse cx="323.1" cy="399.5" rx="19.1" ry="33.5" fill="#050505" fill-opacity="0.90"/>
<ellipse cx="356.6" cy="361.3" rx="7.2" ry="6.0" fill="#212121" fill-opacity="0.85"/>
<ellipse cx="359.0" cy="399.5" rx="9.6" ry="7.2" fill="#212121" fill-opacity="0.85"/>
<ellipse cx="159.4" cy="397.2" rx="9.6" ry="16.7" fill="#050505" fill-opacity="0.90"/>
<ellipse cx="160.6" cy="361.3" rx="9.6" ry="6.0" fill="#383838" fill-opacity="0.85"/>
<ellipse cx="222.7" cy="347.0" rx="14.3" ry="8.4" fill="#383838" fill-opacity="0.85"/>
<ellipse cx="182.1" cy="342.2" rx="7.2" ry="6.0" fill="#4f4f4f" fill-opacity="0.70"/>
<ellipse cx="184.5" cy="382.8" rx="8.4" ry="4.8" fill="#383838" fill-opacity="0.85"/>
<ellipse cx="198.8" cy="404.3" rx="8.4" ry="6.7" fill="#212121" fill-opacity="0.85"/>
<ellipse cx="265.8" cy="380.4" rx="7.2" ry="6.0" fill="#383838" fill-opacity="0.85"/>
<ellipse cx="284.9" cy="373.2" rx="9.6" ry="4.8" fill="#212121" fill-opacity="0.85"/>
<ellipse cx="251.4" cy="370.9" rx="9.6" ry="4.8" fill="#4f4f4f" fill-opacity="0.70"/>
<ellipse cx="284.9" cy="421.1" rx="7.2" ry="7.2" fill="#383838" fill-opacity="0.85"/>
<ellipse cx="275.3" cy="437.8" rx="9.6" ry="6.0" fill="#212121" fill-opacity="0.85"/>
<ellipse cx="246.6" cy="433.0" rx="9.6" ry="6.0" fill="#383838" fill-opacity="0.85"/>
<ellipse cx="347.0" cy="436.6" rx="10.8" ry="7.2" fill="#212121" fill-opacity="0.85"/>
<ellipse cx="332.7" cy="454.5" rx="16.7" ry="7.2" fill="#212121" fill-opacity="0.85"/>
<ellipse cx="313.6" cy="447.4" rx="9.6" ry="7.2" fill="#212121" fill-opacity="0.85"/>
<ellipse cx="265.8" cy="459.3" rx="7.2" ry="9.6" fill="#212121" fill-opacity="0.85"/>
<ellipse cx="370.9" cy="454.5" rx="7.2" ry="7.2" fill="#383838" fill-opacity="0.85"/>
<ellipse cx="366.2" cy="418.7" rx="14.3" ry="3.6" fill="#212121" fill-opacity="0.85"/>
<ellipse cx="428.3" cy="425.8" rx="8.4" ry="7.2" fill="#212121" fill-opacity="0.85"/>
<ellipse cx="421.1" cy="454.5" rx="6.0" ry="7.2" fill="#212121" fill-opacity="0.85"/>
<ellipse cx="447.4" cy="454.5" rx="6.0" ry="4.8" fill="#383838" fill-opacity="0.85"/>
<ellipse cx="385.3" cy="347.0" rx="7.2" ry="7.2" fill="#383838" fill-opacity="0.85"/>
<ellipse cx="433.1" cy="361.3" rx="6.0" ry="4.8" fill="#4f4f4f" fill-opacity="0.70"/>
<ellipse cx="394.8" cy="476.0" rx="9.6" ry="7.2" fill="#212121" fill-opacity="0.85"/>
<ellipse cx="380.5" cy="471.3" rx="7.2" ry="4.8" fill="#383838" fill-opacity="0.85"/>
<ellipse cx="433.1" cy="485.6" rx="9.6" ry="3.6" fill="#383838" fill-opacity="0.85"/>
<ellipse cx="452.2" cy="394.8" rx="7.2" ry="12.0" fill="#383838" fill-opacity="0.85"/>
<ellipse cx="523.9" cy="339.8" rx="9.6" ry="4.8" fill="#212121" fill-opacity="0.85"/>
<ellipse cx="564.6" cy="339.8" rx="9.6" ry="3.6" fill="#383838" fill-opacity="0.85"/>
<ellipse cx="643.5" cy="336.2" rx="23.9" ry="2.9" fill="#212121" fill-opacity="0.85"/>
<ellipse cx="720.0" cy="344.6" rx="12.0" ry="6.0" fill="#383838" fill-opacity="0.85"/>
<ellipse cx="512.0" cy="373.2" rx="19.1" ry="8.4" fill="#212121" fill-opacity="0.85"/>
<ellipse cx="547.8" cy="366.1" rx="14.3" ry="6.0" fill="#212121" fill-opacity="0.85"/>
<ellipse cx="469.0" cy="394.8" rx="13.1" ry="19.1" fill="#050505" fill-opacity="0.90"/>
<ellipse cx="523.9" cy="394.8" rx="19.1" ry="7.2" fill="#212121" fill-opacity="0.85"/>
<ellipse cx="581.3" cy="399.5" rx="9.6" ry="6.0" fill="#383838" fill-opacity="0.85"/>
<ellipse cx="559.8" cy="378.0" rx="6.0" ry="4.8" fill="#383838" fill-opacity="0.85"/>
<ellipse cx="602.8" cy="366.1" rx="7.2" ry="7.2" fill="#383838" fill-opacity="0.85"/>
<ellipse cx="619.6" cy="361.3" rx="7.2" ry="3.6" fill="#4f4f4f" fill-opacity="0.70"/>
<ellipse cx="619.6" cy="382.8" rx="7.2" ry="7.2" fill="#4f4f4f" fill-opacity="0.70"/>
<ellipse cx="464.2" cy="433.0" rx="7.2" ry="8.4" fill="#212121" fill-opacity="0.85"/>
<ellipse cx="569.4" cy="418.7" rx="9.6" ry="6.0" fill="#383838" fill-opacity="0.85"/>
<ellipse cx="576.5" cy="430.6" rx="10.8" ry="6.0" fill="#383838" fill-opacity="0.85"/>
<ellipse cx="643.5" cy="433.0" rx="8.4" ry="6.0" fill="#383838" fill-opacity="0.85"/>
<ellipse cx="691.3" cy="433.0" rx="7.2" ry="4.8" fill="#383838" fill-opacity="0.85"/>
<ellipse cx="669.8" cy="448.6" rx="7.2" ry="6.0" fill="#383838" fill-opacity="0.85"/>
<ellipse cx="705.6" cy="459.3" rx="9.6" ry="4.8" fill="#383838" fill-opacity="0.85"/>
<ellipse cx="755.8" cy="435.4" rx="12.0" ry="21.5" fill="#050505" fill-opacity="0.90"/>
<ellipse cx="720.0" cy="435.4" rx="9.6" ry="4.8" fill="#383838" fill-opacity="0.85"/>
<ellipse cx="600.4" cy="450.9" rx="5.3" ry="4.8" fill="#383838" fill-opacity="0.85"/>
<ellipse cx="741.5" cy="370.9" rx="7.2" ry="4.8" fill="#4f4f4f" fill-opacity="0.70"/>
<ellipse cx="753.4" cy="382.8" rx="7.2" ry="6.0" fill="#383838" fill-opacity="0.85"/>
<ellipse cx="684.1" cy="484.4" rx="12.0" ry="3.6" fill="#383838" fill-opacity="0.85"/>
<ellipse cx="294.4" cy="502.3" rx="9.6" ry="9.6" fill="#212121" fill-opacity="0.85"/>
<ellipse cx="249.0" cy="538.2" rx="8.4" ry="7.2" fill="#212121" fill-opacity="0.85"/>
<ellipse cx="280.1" cy="543.0" rx="9.6" ry="7.2" fill="#383838" fill-opacity="0.85"/>
<ellipse cx="347.0" cy="552.5" rx="16.7" ry="12.0" fill="#383838" fill-opacity="0.85"/>
<ellipse cx="425.9" cy="492.8" rx="9.6" ry="6.0" fill="#212121" fill-opacity="0.85"/>
<ellipse cx="414.0" cy="531.0" rx="7.2" ry="5.3" fill="#383838" fill-opacity="0.85"/>
<ellipse cx="425.9" cy="516.7" rx="6.0" ry="4.3" fill="#383838" fill-opacity="0.85"/>
<ellipse cx="387.7" cy="559.7" rx="7.2" ry="6.0" fill="#383838" fill-opacity="0.85"/>
<ellipse cx="158.2" cy="531.0" rx="6.0" ry="4.8" fill="#383838" fill-opacity="0.85"/>
<ellipse cx="160.6" cy="578.8" rx="10.8" ry="9.6" fill="#212121" fill-opacity="0.85"/>
<ellipse cx="206.0" cy="566.9" rx="9.6" ry="6.0" fill="#212121" fill-opacity="0.85"/>
<ellipse cx="217.9" cy="581.2" rx="7.2" ry="4.8" fill="#383838" fill-opacity="0.85"/>
<ellipse cx="261.0" cy="575.3" rx="14.3" ry="6.0" fill="#212121" fill-opacity="0.85"/>
<ellipse cx="172.5" cy="602.8" rx="7.2" ry="7.2" fill="#212121" fill-opacity="0.85"/>
<ellipse cx="249.0" cy="605.1" rx="7.2" ry="12.0" fill="#212121" fill-opacity="0.85"/>
<ellipse cx="222.7" cy="612.3" rx="9.6" ry="7.2" fill="#383838" fill-opacity="0.85"/>
<ellipse cx="158.2" cy="621.9" rx="12.0" ry="21.5" fill="#050505" fill-opacity="0.90"/>
<ellipse cx="373.3" cy="605.1" rx="8.4" ry="8.4" fill="#212121" fill-opacity="0.85"/>
<ellipse cx="375.7" cy="631.4" rx="6.0" ry="3.6" fill="#383838" fill-opacity="0.85"/>
<ellipse cx="301.6" cy="623.1" rx="7.2" ry="4.3" fill="#4f4f4f" fill-opacity="0.70"/>
<ellipse cx="447.4" cy="623.1" rx="10.8" ry="8.4" fill="#212121" fill-opacity="0.85"/>
<ellipse cx="437.9" cy="586.0" rx="7.2" ry="4.8" fill="#383838" fill-opacity="0.85"/>
<ellipse cx="552.6" cy="576.5" rx="52.6" ry="26.3" fill="#050505" fill-opacity="0.90"/>
<ellipse cx="495.2" cy="550.2" rx="16.7" ry="9.6" fill="#212121" fill-opacity="0.85"/>
<ellipse cx="469.0" cy="583.6" rx="14.3" ry="16.7" fill="#212121" fill-opacity="0.85"/>
<ellipse cx="655.4" cy="576.5" rx="14.3" ry="9.6" fill="#212121" fill-opacity="0.85"/>
<ellipse cx="717.6" cy="576.5" rx="31.1" ry="13.1" fill="#050505" fill-opacity="0.90"/>
<ellipse cx="586.1" cy="495.2" rx="9.6" ry="7.2" fill="#383838" fill-opacity="0.85"/>
<ellipse cx="576.5" cy="511.9" rx="9.6" ry="4.8" fill="#383838" fill-opacity="0.85"/>
<ellipse cx="526.3" cy="515.5" rx="8.4" ry="4.8" fill="#383838" fill-opacity="0.85"/>
<ellipse cx="567.0" cy="523.9" rx="12.0" ry="4.8" fill="#4f4f4f" fill-opacity="0.70"/>
<ellipse cx="645.9" cy="533.4" rx="12.0" ry="6.0" fill="#383838" fill-opacity="0.85"/>
<ellipse cx="662.6" cy="543.0" rx="9.6" ry="4.8" fill="#383838" fill-opacity="0.85"/>
<ellipse cx="710.4" cy="533.4" rx="9.6" ry="8.4" fill="#212121" fill-opacity="0.85"/>
<ellipse cx="693.7" cy="547.8" rx="7.2" ry="4.8" fill="#212121" fill-opacity="0.85"/>
<ellipse cx="751.0" cy="552.5" rx="7.2" ry="4.8" fill="#383838" fill-opacity="0.85"/>
<ellipse cx="758.2" cy="523.9" rx="4.8" ry="4.8" fill="#383838" fill-opacity="0.85"/>
<ellipse cx="672.2" cy="490.4" rx="7.2" ry="3.6" fill="#383838" fill-opacity="0.85"/>
<ellipse cx="696.1" cy="490.4" rx="14.3" ry="2.4" fill="#383838" fill-opacity="0.85"/>
<ellipse cx="464.2" cy="619.5" rx="9.6" ry="12.0" fill="#212121" fill-opacity="0.85"/>
<ellipse cx="672.2" cy="605.1" rx="19.1" ry="7.2" fill="#383838" fill-opacity="0.85"/>
<ellipse cx="624.3" cy="617.1" rx="9.6" ry="4.8" fill="#4f4f4f" fill-opacity="0.70"/>
<ellipse cx="516.8" cy="629.0" rx="19.1" ry="4.8" fill="#4f4f4f" fill-opacity="0.70"/>

</g>
</g>
</g>
<!-- axes -->
<g stroke="#000" stroke-width="1.3" fill="none" shape-rendering="crispEdges">
<path d="M151.5 29 V641"/>
<path d="M151 640.5 H764"/>
<path d="M143 29.5 H764"/>
<path d="M763.5 29 V649"/>
<path d="M143 151.5 H151 M143 273.5 H151 M143 395.5 H151 M143 518.5 H151 M143 640.5 H151"/>
<path d="M151.5 641 V649 M273.5 641 V649 M395.5 641 V649 M518.5 641 V649 M640.5 641 V649"/>
</g>
<!-- colour bar -->
<rect x="823" y="182.5" width="28" height="306.5" fill="url(#cb)" stroke="#000" stroke-width="1"/>
</svg>
<svg width="1280" height="762" viewBox="0 0 1280 762" font-family="'Liberation Sans',Arial,sans-serif" font-size="35" fill="#000" stroke="#000" stroke-width="0.35">
<g text-anchor="end">
<text x="127" y="162.8">7</text>
<text x="127" y="282.7">6</text>
<text x="127" y="406">4</text>
<text x="127" y="530.8">2</text>
<text x="127" y="653.3">0</text>
</g>
<g text-anchor="middle">
<text x="152.5" y="688.4">0</text>
<text x="273.5" y="688.7">2</text>
<text x="393.5" y="688.7">4</text>
<text x="516.8" y="688.4">6</text>
<text x="638.7" y="688.4">8</text>
<text x="761.6" y="688.4">10</text>
<text x="466" y="729.5" font-size="36">&#956;m</text>
<text transform="translate(58.8 351) rotate(-90)" font-size="36">&#956;m</text>
</g>
<text x="790.5" y="168.5" font-size="36.5">50 nm</text>
<text x="802" y="530.5" font-size="36.5">0 nm</text>
</svg>
</body>
</html>
